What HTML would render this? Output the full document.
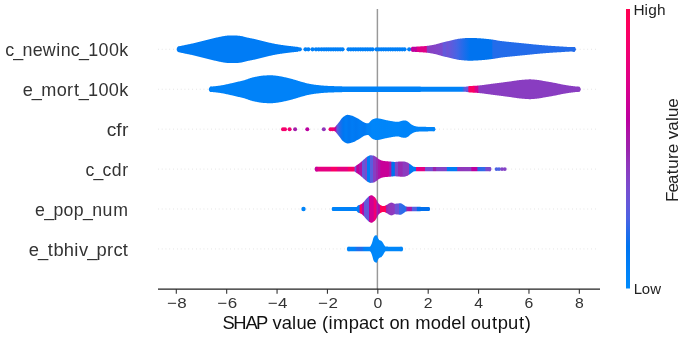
<!DOCTYPE html>
<html><head><meta charset="utf-8"><style>
html,body{margin:0;padding:0;background:#fff;}
body{width:685px;height:340px;overflow:hidden;}
svg{display:block;font-family:"Liberation Sans",sans-serif;filter:blur(0.55px);}
</style></head><body>
<svg width="685" height="340" viewBox="0 0 685 340">
<defs><linearGradient id="g1" gradientUnits="userSpaceOnUse" x1="411.60" y1="0" x2="575.00" y2="0"><stop offset="0.0000" stop-color="#c0009c"/><stop offset="0.0294" stop-color="#c0009c"/><stop offset="0.0343" stop-color="#e00086"/><stop offset="0.0900" stop-color="#e00086"/><stop offset="0.0949" stop-color="#893dc1"/><stop offset="0.1408" stop-color="#8443c6"/><stop offset="0.1860" stop-color="#7b4acc"/><stop offset="0.1952" stop-color="#6359da"/><stop offset="0.2075" stop-color="#6359da"/><stop offset="0.2166" stop-color="#6e53d5"/><stop offset="0.2350" stop-color="#6359da"/><stop offset="0.2778" stop-color="#4565e5"/><stop offset="0.3146" stop-color="#236cea"/><stop offset="0.3574" stop-color="#0073ef"/><stop offset="0.4890" stop-color="#0073ef"/><stop offset="0.4982" stop-color="#236cea"/><stop offset="1.0000" stop-color="#236cea"/></linearGradient><linearGradient id="g2" gradientUnits="userSpaceOnUse" x1="209.90" y1="0" x2="579.70" y2="0"><stop offset="0.0000" stop-color="#0082f8"/><stop offset="0.6817" stop-color="#0082f8"/><stop offset="0.6898" stop-color="#6359da"/><stop offset="0.6966" stop-color="#6a55d7"/><stop offset="0.7006" stop-color="#fb0063"/><stop offset="0.7142" stop-color="#fb0063"/><stop offset="0.7182" stop-color="#d9008b"/><stop offset="0.7236" stop-color="#d5008f"/><stop offset="0.7277" stop-color="#893dc1"/><stop offset="1.0000" stop-color="#893dc1"/></linearGradient><linearGradient id="g3" gradientUnits="userSpaceOnUse" x1="335.40" y1="0" x2="434.60" y2="0"><stop offset="0.0000" stop-color="#bb00a0"/><stop offset="0.0161" stop-color="#6359da"/><stop offset="0.0464" stop-color="#236cea"/><stop offset="0.0766" stop-color="#0076f1"/><stop offset="0.1069" stop-color="#007cf5"/><stop offset="0.1371" stop-color="#0076f1"/><stop offset="0.1673" stop-color="#007cf5"/><stop offset="0.2077" stop-color="#0078f2"/><stop offset="0.2480" stop-color="#007cf5"/><stop offset="0.2984" stop-color="#0079f3"/><stop offset="0.3185" stop-color="#0081f7"/><stop offset="0.3488" stop-color="#0082f8"/><stop offset="0.3690" stop-color="#0086fa"/><stop offset="0.5000" stop-color="#0085f9"/><stop offset="0.6008" stop-color="#0086fa"/><stop offset="0.7016" stop-color="#0084f9"/><stop offset="1.0000" stop-color="#0084f9"/></linearGradient><linearGradient id="g4" gradientUnits="userSpaceOnUse" x1="315.50" y1="0" x2="490.70" y2="0"><stop offset="0.0000" stop-color="#c80098"/><stop offset="0.0143" stop-color="#d9008b"/><stop offset="0.0171" stop-color="#e60080"/><stop offset="0.0885" stop-color="#e60080"/><stop offset="0.0913" stop-color="#f90067"/><stop offset="0.1227" stop-color="#f90067"/><stop offset="0.1256" stop-color="#e60080"/><stop offset="0.1855" stop-color="#e60080"/><stop offset="0.1884" stop-color="#f90067"/><stop offset="0.2186" stop-color="#f90067"/><stop offset="0.2272" stop-color="#784ccf"/><stop offset="0.2323" stop-color="#754fd1"/><stop offset="0.2346" stop-color="#c0009c"/><stop offset="0.2489" stop-color="#c0009c"/><stop offset="0.2511" stop-color="#ab15a7"/><stop offset="0.2660" stop-color="#ab15a7"/><stop offset="0.2683" stop-color="#6359da"/><stop offset="0.2791" stop-color="#6359da"/><stop offset="0.2814" stop-color="#7b4acc"/><stop offset="0.2922" stop-color="#7b4acc"/><stop offset="0.2945" stop-color="#007cf5"/><stop offset="0.3094" stop-color="#007cf5"/><stop offset="0.3116" stop-color="#5a5dde"/><stop offset="0.3259" stop-color="#5a5dde"/><stop offset="0.3282" stop-color="#893dc1"/><stop offset="0.3425" stop-color="#893dc1"/><stop offset="0.3447" stop-color="#972bb2"/><stop offset="0.3556" stop-color="#972bb2"/><stop offset="0.3579" stop-color="#ab15a7"/><stop offset="0.3693" stop-color="#ab15a7"/><stop offset="0.3716" stop-color="#c80098"/><stop offset="0.4184" stop-color="#c80098"/><stop offset="0.4218" stop-color="#ab15a7"/><stop offset="0.4315" stop-color="#ab15a7"/><stop offset="0.4349" stop-color="#0071ee"/><stop offset="0.4503" stop-color="#0071ee"/><stop offset="0.4538" stop-color="#7e48ca"/><stop offset="0.4697" stop-color="#7e48ca"/><stop offset="0.4732" stop-color="#972bb2"/><stop offset="0.4954" stop-color="#972bb2"/><stop offset="0.4989" stop-color="#8c3bbf"/><stop offset="0.5337" stop-color="#8c3bbf"/><stop offset="0.5371" stop-color="#0078f2"/><stop offset="0.5713" stop-color="#0078f2"/><stop offset="0.5759" stop-color="#e60080"/><stop offset="0.6227" stop-color="#e20084"/><stop offset="0.6273" stop-color="#754fd1"/><stop offset="0.6672" stop-color="#754fd1"/><stop offset="0.6718" stop-color="#9b23ad"/><stop offset="0.6878" stop-color="#9b23ad"/><stop offset="0.6912" stop-color="#8443c6"/><stop offset="0.7471" stop-color="#8443c6"/><stop offset="0.7517" stop-color="#007cf5"/><stop offset="0.8076" stop-color="#007cf5"/><stop offset="0.8111" stop-color="#9135ba"/><stop offset="0.8876" stop-color="#8c3bbf"/><stop offset="0.8921" stop-color="#bb00a0"/><stop offset="0.9218" stop-color="#bb00a0"/><stop offset="0.9264" stop-color="#236cea"/><stop offset="0.9675" stop-color="#3769e8"/><stop offset="0.9720" stop-color="#7e48ca"/><stop offset="1.0000" stop-color="#7e48ca"/></linearGradient><linearGradient id="g5" gradientUnits="userSpaceOnUse" x1="332.40" y1="0" x2="429.30" y2="0"><stop offset="0.0000" stop-color="#0084f9"/><stop offset="0.2776" stop-color="#007ff7"/><stop offset="0.2817" stop-color="#f6006b"/><stop offset="0.3024" stop-color="#f6006b"/><stop offset="0.3065" stop-color="#b508a3"/><stop offset="0.3209" stop-color="#b508a3"/><stop offset="0.3251" stop-color="#6359da"/><stop offset="0.3756" stop-color="#6359da"/><stop offset="0.3798" stop-color="#bb00a0"/><stop offset="0.3880" stop-color="#c0009c"/><stop offset="0.3911" stop-color="#d00093"/><stop offset="0.4231" stop-color="#d00093"/><stop offset="0.4272" stop-color="#f00074"/><stop offset="0.4530" stop-color="#f00074"/><stop offset="0.4572" stop-color="#9b23ad"/><stop offset="0.4716" stop-color="#9b23ad"/><stop offset="0.4757" stop-color="#b508a3"/><stop offset="0.4892" stop-color="#b508a3"/><stop offset="0.4933" stop-color="#ff0058"/><stop offset="0.5501" stop-color="#ff0058"/><stop offset="0.5542" stop-color="#a21eaa"/><stop offset="0.5820" stop-color="#9135ba"/><stop offset="0.6398" stop-color="#8c3bbf"/><stop offset="0.6460" stop-color="#6e53d5"/><stop offset="0.6863" stop-color="#6e53d5"/><stop offset="0.6925" stop-color="#3769e8"/><stop offset="0.7544" stop-color="#236cea"/><stop offset="0.7699" stop-color="#9b23ad"/><stop offset="0.8008" stop-color="#ab15a7"/><stop offset="0.8215" stop-color="#9b23ad"/><stop offset="0.8266" stop-color="#555fe0"/><stop offset="0.8669" stop-color="#555fe0"/><stop offset="0.8731" stop-color="#006fed"/><stop offset="1.0000" stop-color="#006fed"/></linearGradient><linearGradient id="g6" gradientUnits="userSpaceOnUse" x1="347.70" y1="0" x2="402.30" y2="0"><stop offset="0.0000" stop-color="#0085f9"/><stop offset="0.1337" stop-color="#0082f8"/><stop offset="0.1703" stop-color="#236cea"/><stop offset="0.2619" stop-color="#236cea"/><stop offset="0.2985" stop-color="#0082f8"/><stop offset="0.5183" stop-color="#0088fa"/><stop offset="1.0000" stop-color="#0085f9"/></linearGradient>
<linearGradient id="cb" x1="0" y1="1" x2="0" y2="0"><stop offset="0.000" stop-color="#008bfb"/><stop offset="0.050" stop-color="#0084f9"/><stop offset="0.100" stop-color="#007cf5"/><stop offset="0.150" stop-color="#0074f0"/><stop offset="0.200" stop-color="#236cea"/><stop offset="0.250" stop-color="#4b63e3"/><stop offset="0.300" stop-color="#6359da"/><stop offset="0.350" stop-color="#754fd1"/><stop offset="0.400" stop-color="#8443c6"/><stop offset="0.450" stop-color="#9135ba"/><stop offset="0.500" stop-color="#9b23ad"/><stop offset="0.550" stop-color="#ab15a7"/><stop offset="0.600" stop-color="#bb00a0"/><stop offset="0.650" stop-color="#c80098"/><stop offset="0.700" stop-color="#d5008f"/><stop offset="0.750" stop-color="#e00086"/><stop offset="0.800" stop-color="#e9007c"/><stop offset="0.850" stop-color="#f20072"/><stop offset="0.900" stop-color="#f90067"/><stop offset="0.950" stop-color="#fe005c"/><stop offset="1.000" stop-color="#ff0051"/></linearGradient>
</defs>
<rect width="685" height="340" fill="#fff"/>
<line x1="158" y1="49.30" x2="598.5" y2="49.30" stroke="#cccccc" stroke-width="0.7" stroke-dasharray="0.7 3.1"/>
<line x1="158" y1="89.25" x2="598.5" y2="89.25" stroke="#cccccc" stroke-width="0.7" stroke-dasharray="0.7 3.1"/>
<line x1="158" y1="129.15" x2="598.5" y2="129.15" stroke="#cccccc" stroke-width="0.7" stroke-dasharray="0.7 3.1"/>
<line x1="158" y1="169.10" x2="598.5" y2="169.10" stroke="#cccccc" stroke-width="0.7" stroke-dasharray="0.7 3.1"/>
<line x1="158" y1="209.00" x2="598.5" y2="209.00" stroke="#cccccc" stroke-width="0.7" stroke-dasharray="0.7 3.1"/>
<line x1="158" y1="248.95" x2="598.5" y2="248.95" stroke="#cccccc" stroke-width="0.7" stroke-dasharray="0.7 3.1"/>
<line x1="377.4" y1="9" x2="377.4" y2="289" stroke="#999999" stroke-width="1.45"/>
<path d="M177.80,46.60 178.30,46.49 178.80,46.37 179.30,46.26 179.80,46.15 180.30,46.04 180.80,45.93 181.30,45.82 181.80,45.71 182.30,45.60 182.80,45.49 183.30,45.38 183.80,45.27 184.30,45.16 184.80,45.06 185.30,44.95 185.80,44.85 186.30,44.75 186.80,44.65 187.30,44.55 187.80,44.45 188.30,44.35 188.80,44.25 189.30,44.15 189.80,44.05 190.30,43.94 190.80,43.84 191.30,43.73 191.80,43.62 192.30,43.51 192.80,43.39 193.30,43.28 193.80,43.15 194.30,43.03 194.80,42.91 195.30,42.78 195.80,42.66 196.30,42.53 196.80,42.40 197.30,42.28 197.80,42.15 198.30,42.02 198.80,41.90 199.30,41.78 199.80,41.65 200.30,41.53 200.80,41.41 201.30,41.28 201.80,41.16 202.30,41.04 202.80,40.91 203.30,40.79 203.80,40.67 204.30,40.54 204.80,40.42 205.30,40.30 205.80,40.17 206.30,40.05 206.80,39.93 207.30,39.80 207.80,39.68 208.30,39.55 208.80,39.43 209.30,39.30 209.80,39.18 210.30,39.05 210.80,38.93 211.30,38.80 211.80,38.68 212.30,38.56 212.80,38.44 213.30,38.32 213.80,38.20 214.30,38.08 214.80,37.96 215.30,37.85 215.80,37.73 216.30,37.61 216.80,37.50 217.30,37.38 217.80,37.27 218.30,37.16 218.80,37.05 219.30,36.94 219.80,36.84 220.30,36.74 220.80,36.64 221.30,36.54 221.80,36.44 222.30,36.34 222.80,36.25 223.30,36.16 223.80,36.07 224.30,36.00 224.80,35.93 225.30,35.86 225.80,35.80 226.30,35.73 226.80,35.67 227.30,35.61 227.80,35.57 228.30,35.53 228.80,35.51 229.30,35.50 229.80,35.50 230.30,35.50 230.80,35.50 231.30,35.50 231.80,35.50 232.30,35.50 232.80,35.50 233.30,35.50 233.80,35.50 234.30,35.50 234.80,35.50 235.30,35.50 235.80,35.51 236.30,35.53 236.80,35.56 237.30,35.60 237.80,35.64 238.30,35.69 238.80,35.75 239.30,35.80 239.80,35.86 240.30,35.92 240.80,35.99 241.30,36.06 241.80,36.15 242.30,36.25 242.80,36.37 243.30,36.49 243.80,36.63 244.30,36.77 244.80,36.91 245.30,37.05 245.80,37.18 246.30,37.31 246.80,37.42 247.30,37.53 247.80,37.64 248.30,37.74 248.80,37.84 249.30,37.94 249.80,38.04 250.30,38.14 250.80,38.24 251.30,38.34 251.80,38.43 252.30,38.53 252.80,38.63 253.30,38.74 253.80,38.84 254.30,38.95 254.80,39.06 255.30,39.17 255.80,39.28 256.30,39.40 256.80,39.52 257.30,39.64 257.80,39.77 258.30,39.89 258.80,40.02 259.30,40.14 259.80,40.27 260.30,40.40 260.80,40.52 261.30,40.65 261.80,40.78 262.30,40.90 262.80,41.02 263.30,41.15 263.80,41.28 264.30,41.40 264.80,41.53 265.30,41.66 265.80,41.78 266.30,41.91 266.80,42.03 267.30,42.16 267.80,42.28 268.30,42.40 268.80,42.52 269.30,42.63 269.80,42.74 270.30,42.86 270.80,42.97 271.30,43.08 271.80,43.19 272.30,43.29 272.80,43.40 273.30,43.51 273.80,43.61 274.30,43.71 274.80,43.81 275.30,43.91 275.80,44.00 276.30,44.09 276.80,44.18 277.30,44.27 277.80,44.35 278.30,44.44 278.80,44.52 279.30,44.59 279.80,44.67 280.30,44.75 280.80,44.82 281.30,44.89 281.80,44.97 282.30,45.04 282.80,45.11 283.30,45.18 283.80,45.25 284.30,45.31 284.80,45.38 285.30,45.45 285.80,45.51 286.30,45.57 286.80,45.64 287.30,45.70 287.80,45.76 288.30,45.82 288.80,45.88 289.30,45.94 289.80,46.00 290.30,46.06 290.80,46.12 291.30,46.18 291.80,46.24 292.30,46.29 292.80,46.35 293.30,46.41 293.80,46.47 294.30,46.53 294.80,46.58 295.30,46.64 295.80,46.70 296.30,46.76 296.80,46.81 297.30,46.87 297.80,46.92 298.30,46.98 298.50,47.00 L298.50,51.60 298.30,51.62 297.80,51.68 297.30,51.73 296.80,51.79 296.30,51.84 295.80,51.90 295.30,51.96 294.80,52.02 294.30,52.07 293.80,52.13 293.30,52.19 292.80,52.25 292.30,52.31 291.80,52.36 291.30,52.42 290.80,52.48 290.30,52.54 289.80,52.60 289.30,52.66 288.80,52.72 288.30,52.78 287.80,52.84 287.30,52.90 286.80,52.96 286.30,53.03 285.80,53.09 285.30,53.15 284.80,53.22 284.30,53.29 283.80,53.35 283.30,53.42 282.80,53.49 282.30,53.56 281.80,53.63 281.30,53.71 280.80,53.78 280.30,53.85 279.80,53.93 279.30,54.01 278.80,54.08 278.30,54.16 277.80,54.25 277.30,54.33 276.80,54.42 276.30,54.51 275.80,54.60 275.30,54.69 274.80,54.79 274.30,54.89 273.80,54.99 273.30,55.09 272.80,55.20 272.30,55.31 271.80,55.41 271.30,55.52 270.80,55.63 270.30,55.74 269.80,55.86 269.30,55.97 268.80,56.08 268.30,56.20 267.80,56.32 267.30,56.44 266.80,56.57 266.30,56.69 265.80,56.82 265.30,56.94 264.80,57.07 264.30,57.20 263.80,57.32 263.30,57.45 262.80,57.58 262.30,57.70 261.80,57.82 261.30,57.95 260.80,58.08 260.30,58.20 259.80,58.33 259.30,58.46 258.80,58.58 258.30,58.71 257.80,58.83 257.30,58.96 256.80,59.08 256.30,59.20 255.80,59.32 255.30,59.43 254.80,59.54 254.30,59.65 253.80,59.76 253.30,59.86 252.80,59.97 252.30,60.07 251.80,60.17 251.30,60.26 250.80,60.36 250.30,60.46 249.80,60.56 249.30,60.66 248.80,60.76 248.30,60.86 247.80,60.96 247.30,61.07 246.80,61.18 246.30,61.29 245.80,61.42 245.30,61.55 244.80,61.69 244.30,61.83 243.80,61.97 243.30,62.11 242.80,62.23 242.30,62.35 241.80,62.45 241.30,62.54 240.80,62.61 240.30,62.68 239.80,62.74 239.30,62.80 238.80,62.85 238.30,62.91 237.80,62.96 237.30,63.00 236.80,63.04 236.30,63.07 235.80,63.09 235.30,63.10 234.80,63.10 234.30,63.10 233.80,63.10 233.30,63.10 232.80,63.10 232.30,63.10 231.80,63.10 231.30,63.10 230.80,63.10 230.30,63.10 229.80,63.10 229.30,63.10 228.80,63.09 228.30,63.07 227.80,63.03 227.30,62.99 226.80,62.93 226.30,62.87 225.80,62.80 225.30,62.74 224.80,62.67 224.30,62.60 223.80,62.53 223.30,62.44 222.80,62.35 222.30,62.26 221.80,62.16 221.30,62.06 220.80,61.96 220.30,61.86 219.80,61.76 219.30,61.66 218.80,61.55 218.30,61.44 217.80,61.33 217.30,61.22 216.80,61.10 216.30,60.99 215.80,60.87 215.30,60.75 214.80,60.64 214.30,60.52 213.80,60.40 213.30,60.28 212.80,60.16 212.30,60.04 211.80,59.92 211.30,59.80 210.80,59.67 210.30,59.55 209.80,59.42 209.30,59.30 208.80,59.17 208.30,59.05 207.80,58.92 207.30,58.80 206.80,58.67 206.30,58.55 205.80,58.43 205.30,58.30 204.80,58.18 204.30,58.06 203.80,57.93 203.30,57.81 202.80,57.69 202.30,57.56 201.80,57.44 201.30,57.32 200.80,57.19 200.30,57.07 199.80,56.95 199.30,56.82 198.80,56.70 198.30,56.58 197.80,56.45 197.30,56.32 196.80,56.20 196.30,56.07 195.80,55.94 195.30,55.82 194.80,55.69 194.30,55.57 193.80,55.45 193.30,55.32 192.80,55.21 192.30,55.09 191.80,54.98 191.30,54.87 190.80,54.76 190.30,54.66 189.80,54.55 189.30,54.45 188.80,54.35 188.30,54.25 187.80,54.15 187.30,54.05 186.80,53.95 186.30,53.85 185.80,53.75 185.30,53.65 184.80,53.54 184.30,53.44 183.80,53.33 183.30,53.22 182.80,53.11 182.30,53.00 181.80,52.89 181.30,52.78 180.80,52.67 180.30,52.56 179.80,52.45 179.30,52.34 178.80,52.23 178.30,52.11 177.80,52.00 Z" fill="#007cf5"/>
<circle cx="179.42" cy="49.30" r="2.70" fill="#007cf5"/>
<circle cx="297.12" cy="49.30" r="2.30" fill="#007cf5"/>
<circle cx="299.80" cy="49.30" r="2.10" fill="#007ef6"/>
<circle cx="305.50" cy="49.30" r="2.10" fill="#007ff7"/>
<circle cx="308.30" cy="49.30" r="2.10" fill="#007ff7"/>
<circle cx="312.50" cy="49.30" r="2.10" fill="#007ff7"/>
<circle cx="316.00" cy="49.30" r="2.10" fill="#007ff7"/>
<circle cx="318.75" cy="49.30" r="2.10" fill="#007ff7"/>
<circle cx="321.50" cy="49.30" r="2.10" fill="#007ff7"/>
<circle cx="324.00" cy="49.30" r="2.10" fill="#007ff7"/>
<circle cx="326.31" cy="49.30" r="2.10" fill="#007ff7"/>
<circle cx="328.62" cy="49.30" r="2.10" fill="#007ff7"/>
<circle cx="330.94" cy="49.30" r="2.10" fill="#007ff7"/>
<circle cx="333.25" cy="49.30" r="2.10" fill="#007ff7"/>
<circle cx="335.56" cy="49.30" r="2.10" fill="#007ff7"/>
<circle cx="337.88" cy="49.30" r="2.10" fill="#007ff7"/>
<circle cx="340.19" cy="49.30" r="2.10" fill="#007ff7"/>
<circle cx="342.50" cy="49.30" r="2.10" fill="#007ff7"/>
<circle cx="348.50" cy="49.30" r="2.10" fill="#007ff7"/>
<circle cx="350.90" cy="49.30" r="2.10" fill="#007ff7"/>
<circle cx="353.30" cy="49.30" r="2.10" fill="#007ff7"/>
<circle cx="355.70" cy="49.30" r="2.10" fill="#007ff7"/>
<circle cx="358.10" cy="49.30" r="2.10" fill="#007ff7"/>
<circle cx="360.50" cy="49.30" r="2.10" fill="#007ff7"/>
<circle cx="362.90" cy="49.30" r="2.10" fill="#007ff7"/>
<circle cx="365.30" cy="49.30" r="2.10" fill="#007ff7"/>
<circle cx="367.70" cy="49.30" r="2.10" fill="#007ff7"/>
<circle cx="370.10" cy="49.30" r="2.10" fill="#007ff7"/>
<circle cx="372.50" cy="49.30" r="2.10" fill="#007ff7"/>
<circle cx="376.50" cy="49.30" r="2.10" fill="#007ff7"/>
<circle cx="378.83" cy="49.30" r="2.10" fill="#007ff7"/>
<circle cx="381.17" cy="49.30" r="2.10" fill="#007ff7"/>
<circle cx="383.50" cy="49.30" r="2.10" fill="#007ff7"/>
<circle cx="385.83" cy="49.30" r="2.10" fill="#007ff7"/>
<circle cx="388.17" cy="49.30" r="2.10" fill="#007ff7"/>
<circle cx="390.50" cy="49.30" r="2.10" fill="#007ff7"/>
<circle cx="392.83" cy="49.30" r="2.10" fill="#007ff7"/>
<circle cx="395.17" cy="49.30" r="2.10" fill="#007ff7"/>
<circle cx="397.50" cy="49.30" r="2.10" fill="#007ff7"/>
<circle cx="399.83" cy="49.30" r="2.10" fill="#007ff7"/>
<circle cx="402.17" cy="49.30" r="2.10" fill="#007ff7"/>
<circle cx="404.50" cy="49.30" r="2.10" fill="#007ff7"/>
<circle cx="409.20" cy="49.30" r="2.10" fill="#007ff7"/>
<path d="M411.60,46.90 412.10,46.87 412.60,46.85 413.10,46.82 413.60,46.79 414.10,46.77 414.60,46.74 415.10,46.71 415.60,46.68 416.10,46.65 416.60,46.62 417.10,46.59 417.60,46.56 418.10,46.52 418.60,46.49 419.10,46.46 419.60,46.43 420.10,46.39 420.60,46.36 421.10,46.33 421.60,46.30 422.10,46.26 422.60,46.23 423.10,46.20 423.60,46.16 424.10,46.13 424.60,46.09 425.10,46.05 425.60,46.00 426.10,45.96 426.60,45.91 427.10,45.86 427.60,45.80 428.10,45.74 428.60,45.67 429.10,45.60 429.60,45.52 430.10,45.44 430.60,45.36 431.10,45.27 431.60,45.18 432.10,45.09 432.60,45.00 433.10,44.90 433.60,44.80 434.10,44.70 434.60,44.60 435.10,44.49 435.60,44.38 436.10,44.25 436.60,44.12 437.10,43.99 437.60,43.85 438.10,43.70 438.60,43.56 439.10,43.41 439.60,43.26 440.10,43.12 440.60,42.98 441.10,42.84 441.60,42.70 442.10,42.57 442.60,42.45 443.10,42.32 443.60,42.20 444.10,42.08 444.60,41.96 445.10,41.84 445.60,41.72 446.10,41.60 446.60,41.48 447.10,41.36 447.60,41.25 448.10,41.13 448.60,41.02 449.10,40.90 449.60,40.79 450.10,40.68 450.60,40.56 451.10,40.45 451.60,40.33 452.10,40.20 452.60,40.08 453.10,39.96 453.60,39.84 454.10,39.72 454.60,39.60 455.10,39.48 455.60,39.36 456.10,39.25 456.60,39.15 457.10,39.05 457.60,38.95 458.10,38.86 458.60,38.78 459.10,38.71 459.60,38.65 460.10,38.59 460.60,38.54 461.10,38.48 461.60,38.43 462.10,38.38 462.60,38.33 463.10,38.28 463.60,38.24 464.10,38.19 464.60,38.15 465.10,38.11 465.60,38.07 466.10,38.04 466.60,38.01 467.10,37.98 467.60,37.96 468.10,37.94 468.60,37.92 469.10,37.91 469.60,37.90 470.10,37.90 470.60,37.90 471.10,37.91 471.60,37.92 472.10,37.93 472.60,37.94 473.10,37.96 473.60,37.98 474.10,38.00 474.60,38.02 475.10,38.04 475.60,38.07 476.10,38.10 476.60,38.12 477.10,38.15 477.60,38.18 478.10,38.22 478.60,38.25 479.10,38.28 479.60,38.31 480.10,38.34 480.60,38.37 481.10,38.41 481.60,38.44 482.10,38.48 482.60,38.51 483.10,38.55 483.60,38.60 484.10,38.64 484.60,38.69 485.10,38.73 485.60,38.78 486.10,38.84 486.60,38.89 487.10,38.94 487.60,39.00 488.10,39.05 488.60,39.11 489.10,39.17 489.60,39.23 490.10,39.29 490.60,39.35 491.10,39.41 491.60,39.48 492.10,39.55 492.60,39.62 493.10,39.70 493.60,39.78 494.10,39.86 494.60,39.95 495.10,40.03 495.60,40.12 496.10,40.21 496.60,40.30 497.10,40.38 497.60,40.47 498.10,40.56 498.60,40.64 499.10,40.72 499.60,40.80 500.10,40.88 500.60,40.95 501.10,41.01 501.60,41.08 502.10,41.14 502.60,41.20 503.10,41.26 503.60,41.32 504.10,41.37 504.60,41.43 505.10,41.49 505.60,41.54 506.10,41.59 506.60,41.65 507.10,41.70 507.60,41.75 508.10,41.80 508.60,41.85 509.10,41.91 509.60,41.96 510.10,42.01 510.60,42.06 511.10,42.11 511.60,42.16 512.10,42.21 512.60,42.26 513.10,42.31 513.60,42.36 514.10,42.41 514.60,42.46 515.10,42.51 515.60,42.56 516.10,42.61 516.60,42.66 517.10,42.71 517.60,42.76 518.10,42.81 518.60,42.86 519.10,42.91 519.60,42.96 520.10,43.01 520.60,43.06 521.10,43.11 521.60,43.16 522.10,43.21 522.60,43.26 523.10,43.31 523.60,43.36 524.10,43.41 524.60,43.46 525.10,43.51 525.60,43.56 526.10,43.61 526.60,43.66 527.10,43.71 527.60,43.76 528.10,43.81 528.60,43.86 529.10,43.91 529.60,43.96 530.10,44.02 530.60,44.07 531.10,44.12 531.60,44.17 532.10,44.22 532.60,44.27 533.10,44.33 533.60,44.38 534.10,44.43 534.60,44.48 535.10,44.53 535.60,44.57 536.10,44.62 536.60,44.67 537.10,44.72 537.60,44.76 538.10,44.81 538.60,44.85 539.10,44.90 539.60,44.94 540.10,44.99 540.60,45.03 541.10,45.07 541.60,45.12 542.10,45.16 542.60,45.20 543.10,45.24 543.60,45.28 544.10,45.32 544.60,45.36 545.10,45.40 545.60,45.44 546.10,45.48 546.60,45.52 547.10,45.56 547.60,45.60 548.10,45.63 548.60,45.67 549.10,45.71 549.60,45.74 550.10,45.78 550.60,45.81 551.10,45.85 551.60,45.88 552.10,45.91 552.60,45.95 553.10,45.98 553.60,46.01 554.10,46.04 554.60,46.07 555.10,46.11 555.60,46.14 556.10,46.17 556.60,46.20 557.10,46.23 557.60,46.26 558.10,46.29 558.60,46.32 559.10,46.35 559.60,46.38 560.10,46.41 560.60,46.44 561.10,46.47 561.60,46.50 562.10,46.54 562.60,46.57 563.10,46.61 563.60,46.65 564.10,46.68 564.60,46.72 565.10,46.75 565.60,46.79 566.10,46.82 566.60,46.85 567.10,46.88 567.60,46.91 568.10,46.93 568.60,46.95 569.10,46.97 569.60,46.98 570.10,46.99 570.60,47.00 571.10,47.00 571.60,47.00 572.10,46.99 572.60,46.98 573.10,46.97 573.60,46.96 574.10,46.94 574.60,46.92 575.00,46.90 L575.00,51.70 574.60,51.68 574.10,51.66 573.60,51.64 573.10,51.63 572.60,51.62 572.10,51.61 571.60,51.60 571.10,51.60 570.60,51.60 570.10,51.61 569.60,51.62 569.10,51.63 568.60,51.65 568.10,51.67 567.60,51.69 567.10,51.72 566.60,51.75 566.10,51.78 565.60,51.81 565.10,51.85 564.60,51.88 564.10,51.92 563.60,51.95 563.10,51.99 562.60,52.03 562.10,52.06 561.60,52.10 561.10,52.13 560.60,52.16 560.10,52.19 559.60,52.22 559.10,52.25 558.60,52.28 558.10,52.31 557.60,52.34 557.10,52.37 556.60,52.40 556.10,52.43 555.60,52.46 555.10,52.49 554.60,52.53 554.10,52.56 553.60,52.59 553.10,52.62 552.60,52.65 552.10,52.69 551.60,52.72 551.10,52.75 550.60,52.79 550.10,52.82 549.60,52.86 549.10,52.89 548.60,52.93 548.10,52.97 547.60,53.00 547.10,53.04 546.60,53.08 546.10,53.12 545.60,53.16 545.10,53.20 544.60,53.24 544.10,53.28 543.60,53.32 543.10,53.36 542.60,53.40 542.10,53.44 541.60,53.48 541.10,53.53 540.60,53.57 540.10,53.61 539.60,53.66 539.10,53.70 538.60,53.75 538.10,53.79 537.60,53.84 537.10,53.88 536.60,53.93 536.10,53.98 535.60,54.03 535.10,54.07 534.60,54.12 534.10,54.17 533.60,54.22 533.10,54.27 532.60,54.33 532.10,54.38 531.60,54.43 531.10,54.48 530.60,54.53 530.10,54.58 529.60,54.64 529.10,54.69 528.60,54.74 528.10,54.79 527.60,54.84 527.10,54.89 526.60,54.94 526.10,54.99 525.60,55.04 525.10,55.09 524.60,55.14 524.10,55.19 523.60,55.24 523.10,55.29 522.60,55.34 522.10,55.39 521.60,55.44 521.10,55.49 520.60,55.54 520.10,55.59 519.60,55.64 519.10,55.69 518.60,55.74 518.10,55.79 517.60,55.84 517.10,55.89 516.60,55.94 516.10,55.99 515.60,56.04 515.10,56.09 514.60,56.14 514.10,56.19 513.60,56.24 513.10,56.29 512.60,56.34 512.10,56.39 511.60,56.44 511.10,56.49 510.60,56.54 510.10,56.59 509.60,56.64 509.10,56.69 508.60,56.75 508.10,56.80 507.60,56.85 507.10,56.90 506.60,56.95 506.10,57.01 505.60,57.06 505.10,57.11 504.60,57.17 504.10,57.23 503.60,57.28 503.10,57.34 502.60,57.40 502.10,57.46 501.60,57.52 501.10,57.59 500.60,57.65 500.10,57.72 499.60,57.80 499.10,57.88 498.60,57.96 498.10,58.04 497.60,58.13 497.10,58.22 496.60,58.30 496.10,58.39 495.60,58.48 495.10,58.57 494.60,58.65 494.10,58.74 493.60,58.82 493.10,58.90 492.60,58.98 492.10,59.05 491.60,59.12 491.10,59.19 490.60,59.25 490.10,59.31 489.60,59.37 489.10,59.43 488.60,59.49 488.10,59.55 487.60,59.60 487.10,59.66 486.60,59.71 486.10,59.76 485.60,59.82 485.10,59.87 484.60,59.91 484.10,59.96 483.60,60.00 483.10,60.05 482.60,60.09 482.10,60.12 481.60,60.16 481.10,60.19 480.60,60.23 480.10,60.26 479.60,60.29 479.10,60.32 478.60,60.35 478.10,60.38 477.60,60.42 477.10,60.45 476.60,60.48 476.10,60.50 475.60,60.53 475.10,60.56 474.60,60.58 474.10,60.60 473.60,60.62 473.10,60.64 472.60,60.66 472.10,60.67 471.60,60.68 471.10,60.69 470.60,60.70 470.10,60.70 469.60,60.70 469.10,60.69 468.60,60.68 468.10,60.66 467.60,60.64 467.10,60.62 466.60,60.59 466.10,60.56 465.60,60.53 465.10,60.49 464.60,60.45 464.10,60.41 463.60,60.36 463.10,60.32 462.60,60.27 462.10,60.22 461.60,60.17 461.10,60.12 460.60,60.06 460.10,60.01 459.60,59.95 459.10,59.89 458.60,59.82 458.10,59.74 457.60,59.65 457.10,59.55 456.60,59.45 456.10,59.35 455.60,59.24 455.10,59.12 454.60,59.00 454.10,58.88 453.60,58.76 453.10,58.64 452.60,58.52 452.10,58.40 451.60,58.27 451.10,58.15 450.60,58.04 450.10,57.92 449.60,57.81 449.10,57.70 448.60,57.58 448.10,57.47 447.60,57.35 447.10,57.24 446.60,57.12 446.10,57.00 445.60,56.88 445.10,56.76 444.60,56.64 444.10,56.52 443.60,56.40 443.10,56.28 442.60,56.15 442.10,56.03 441.60,55.90 441.10,55.76 440.60,55.62 440.10,55.48 439.60,55.34 439.10,55.19 438.60,55.04 438.10,54.90 437.60,54.75 437.10,54.61 436.60,54.48 436.10,54.35 435.60,54.22 435.10,54.11 434.60,54.00 434.10,53.90 433.60,53.80 433.10,53.70 432.60,53.60 432.10,53.51 431.60,53.42 431.10,53.33 430.60,53.24 430.10,53.16 429.60,53.08 429.10,53.00 428.60,52.93 428.10,52.86 427.60,52.80 427.10,52.74 426.60,52.69 426.10,52.64 425.60,52.60 425.10,52.55 424.60,52.51 424.10,52.47 423.60,52.44 423.10,52.40 422.60,52.37 422.10,52.34 421.60,52.30 421.10,52.27 420.60,52.24 420.10,52.21 419.60,52.17 419.10,52.14 418.60,52.11 418.10,52.08 417.60,52.04 417.10,52.01 416.60,51.98 416.10,51.95 415.60,51.92 415.10,51.89 414.60,51.86 414.10,51.83 413.60,51.81 413.10,51.78 412.60,51.75 412.10,51.73 411.60,51.70 Z" fill="url(#g1)"/>
<circle cx="413.04" cy="49.30" r="2.40" fill="url(#g1)"/>
<circle cx="573.56" cy="49.30" r="2.40" fill="url(#g1)"/>
<path d="M209.90,86.65 210.40,86.62 210.90,86.58 211.40,86.54 211.90,86.50 212.40,86.46 212.90,86.42 213.40,86.37 213.90,86.32 214.40,86.27 214.90,86.22 215.40,86.16 215.90,86.11 216.40,86.05 216.90,85.98 217.40,85.92 217.90,85.85 218.40,85.78 218.90,85.71 219.40,85.64 219.90,85.57 220.40,85.49 220.90,85.41 221.40,85.33 221.90,85.25 222.40,85.17 222.90,85.08 223.40,84.98 223.90,84.89 224.40,84.79 224.90,84.69 225.40,84.58 225.90,84.47 226.40,84.37 226.90,84.26 227.40,84.15 227.90,84.04 228.40,83.93 228.90,83.82 229.40,83.71 229.90,83.60 230.40,83.48 230.90,83.37 231.40,83.25 231.90,83.14 232.40,83.02 232.90,82.90 233.40,82.78 233.90,82.66 234.40,82.55 234.90,82.43 235.40,82.31 235.90,82.19 236.40,82.07 236.90,81.96 237.40,81.84 237.90,81.73 238.40,81.62 238.90,81.51 239.40,81.40 239.90,81.29 240.40,81.18 240.90,81.06 241.40,80.95 241.90,80.83 242.40,80.71 242.90,80.58 243.40,80.46 243.90,80.32 244.40,80.18 244.90,80.03 245.40,79.87 245.90,79.70 246.40,79.53 246.90,79.35 247.40,79.17 247.90,78.99 248.40,78.80 248.90,78.62 249.40,78.44 249.90,78.27 250.40,78.10 250.90,77.93 251.40,77.77 251.90,77.63 252.40,77.49 252.90,77.36 253.40,77.25 253.90,77.14 254.40,77.04 254.90,76.94 255.40,76.83 255.90,76.73 256.40,76.63 256.90,76.53 257.40,76.44 257.90,76.35 258.40,76.26 258.90,76.17 259.40,76.09 259.90,76.00 260.40,75.93 260.90,75.86 261.40,75.79 261.90,75.72 262.40,75.67 262.90,75.61 263.40,75.56 263.90,75.52 264.40,75.49 264.90,75.46 265.40,75.43 265.90,75.40 266.40,75.38 266.90,75.36 267.40,75.33 267.90,75.31 268.40,75.30 268.90,75.28 269.40,75.27 269.90,75.26 270.40,75.25 270.90,75.25 271.40,75.26 271.90,75.27 272.40,75.30 272.90,75.34 273.40,75.38 273.90,75.43 274.40,75.48 274.90,75.54 275.40,75.60 275.90,75.66 276.40,75.72 276.90,75.77 277.40,75.84 277.90,75.90 278.40,75.98 278.90,76.05 279.40,76.13 279.90,76.22 280.40,76.31 280.90,76.40 281.40,76.50 281.90,76.60 282.40,76.70 282.90,76.80 283.40,76.91 283.90,77.02 284.40,77.13 284.90,77.24 285.40,77.35 285.90,77.47 286.40,77.59 286.90,77.70 287.40,77.82 287.90,77.93 288.40,78.05 288.90,78.17 289.40,78.29 289.90,78.42 290.40,78.55 290.90,78.68 291.40,78.82 291.90,78.96 292.40,79.10 292.90,79.25 293.40,79.39 293.90,79.53 294.40,79.68 294.90,79.82 295.40,79.97 295.90,80.11 296.40,80.26 296.90,80.42 297.40,80.57 297.90,80.73 298.40,80.89 298.90,81.04 299.40,81.20 299.90,81.35 300.40,81.50 300.90,81.65 301.40,81.80 301.90,81.94 302.40,82.08 302.90,82.21 303.40,82.35 303.90,82.48 304.40,82.62 304.90,82.75 305.40,82.88 305.90,83.01 306.40,83.14 306.90,83.26 307.40,83.38 307.90,83.50 308.40,83.61 308.90,83.71 309.40,83.81 309.90,83.91 310.40,84.00 310.90,84.08 311.40,84.17 311.90,84.25 312.40,84.33 312.90,84.41 313.40,84.49 313.90,84.56 314.40,84.63 314.90,84.70 315.40,84.76 315.90,84.83 316.40,84.89 316.90,84.95 317.40,85.01 317.90,85.06 318.40,85.12 318.90,85.17 319.40,85.23 319.90,85.28 320.40,85.33 320.90,85.38 321.40,85.42 321.90,85.47 322.40,85.51 322.90,85.55 323.40,85.59 323.90,85.63 324.40,85.66 324.90,85.70 325.40,85.73 325.90,85.76 326.40,85.80 326.90,85.83 327.40,85.85 327.90,85.88 328.40,85.91 328.90,85.94 329.40,85.96 329.90,85.98 330.40,86.01 330.90,86.03 331.40,86.05 331.90,86.06 332.40,86.08 332.90,86.10 333.40,86.11 333.90,86.12 334.40,86.14 334.90,86.15 335.40,86.16 335.90,86.17 336.40,86.19 336.90,86.20 337.40,86.21 337.90,86.22 338.40,86.24 338.90,86.25 339.40,86.27 339.90,86.29 340.40,86.31 340.90,86.33 341.40,86.35 341.90,86.37 342.40,86.39 342.90,86.40 343.40,86.42 343.90,86.43 344.40,86.44 344.90,86.45 345.40,86.45 345.90,86.46 346.40,86.46 346.90,86.46 347.40,86.46 347.90,86.47 348.40,86.47 348.90,86.47 349.40,86.48 349.90,86.48 350.40,86.48 350.90,86.48 351.40,86.48 351.90,86.49 352.40,86.49 352.90,86.49 353.40,86.49 353.90,86.49 354.40,86.50 354.90,86.50 355.40,86.50 355.90,86.50 356.40,86.50 356.90,86.50 357.40,86.51 357.90,86.51 358.40,86.51 358.90,86.51 359.40,86.51 359.90,86.51 360.40,86.51 360.90,86.51 361.40,86.52 361.90,86.52 362.40,86.52 362.90,86.52 363.40,86.52 363.90,86.52 364.40,86.52 364.90,86.52 365.40,86.52 365.90,86.52 366.40,86.53 366.90,86.53 367.40,86.53 367.90,86.53 368.40,86.53 368.90,86.53 369.40,86.53 369.90,86.53 370.40,86.53 370.90,86.53 371.40,86.53 371.90,86.53 372.40,86.54 372.90,86.54 373.40,86.54 373.90,86.54 374.40,86.54 374.90,86.54 375.40,86.54 375.90,86.54 376.40,86.54 376.90,86.54 377.40,86.54 377.90,86.55 378.40,86.55 378.90,86.55 379.40,86.55 379.90,86.55 380.40,86.55 380.90,86.55 381.40,86.55 381.90,86.55 382.40,86.56 382.90,86.56 383.40,86.56 383.90,86.56 384.40,86.56 384.90,86.56 385.40,86.56 385.90,86.56 386.40,86.56 386.90,86.56 387.40,86.57 387.90,86.57 388.40,86.57 388.90,86.57 389.40,86.57 389.90,86.57 390.40,86.57 390.90,86.57 391.40,86.57 391.90,86.57 392.40,86.57 392.90,86.58 393.40,86.58 393.90,86.58 394.40,86.58 394.90,86.58 395.40,86.58 395.90,86.58 396.40,86.58 396.90,86.58 397.40,86.58 397.90,86.58 398.40,86.58 398.90,86.59 399.40,86.59 399.90,86.59 400.40,86.59 400.90,86.59 401.40,86.59 401.90,86.59 402.40,86.59 402.90,86.59 403.40,86.59 403.90,86.59 404.40,86.59 404.90,86.60 405.40,86.60 405.90,86.60 406.40,86.60 406.90,86.60 407.40,86.60 407.90,86.60 408.40,86.60 408.90,86.60 409.40,86.60 409.90,86.60 410.40,86.60 410.90,86.61 411.40,86.61 411.90,86.61 412.40,86.61 412.90,86.61 413.40,86.61 413.90,86.61 414.40,86.61 414.90,86.61 415.40,86.61 415.90,86.62 416.40,86.62 416.90,86.62 417.40,86.62 417.90,86.62 418.40,86.62 418.90,86.62 419.40,86.62 419.90,86.62 420.40,86.62 420.90,86.63 421.40,86.63 421.90,86.63 422.40,86.63 422.90,86.63 423.40,86.63 423.90,86.63 424.40,86.63 424.90,86.64 425.40,86.64 425.90,86.64 426.40,86.64 426.90,86.64 427.40,86.64 427.90,86.64 428.40,86.65 428.90,86.65 429.40,86.65 429.90,86.65 430.40,86.65 430.90,86.65 431.40,86.65 431.90,86.66 432.40,86.66 432.90,86.66 433.40,86.66 433.90,86.67 434.40,86.67 434.90,86.67 435.40,86.68 435.90,86.68 436.40,86.68 436.90,86.68 437.40,86.69 437.90,86.69 438.40,86.70 438.90,86.70 439.40,86.70 439.90,86.71 440.40,86.71 440.90,86.71 441.40,86.72 441.90,86.72 442.40,86.73 442.90,86.73 443.40,86.73 443.90,86.74 444.40,86.74 444.90,86.75 445.40,86.75 445.90,86.75 446.40,86.76 446.90,86.76 447.40,86.77 447.90,86.77 448.40,86.77 448.90,86.78 449.40,86.78 449.90,86.79 450.40,86.79 450.90,86.79 451.40,86.80 451.90,86.80 452.40,86.80 452.90,86.81 453.40,86.81 453.90,86.81 454.40,86.82 454.90,86.82 455.40,86.82 455.90,86.83 456.40,86.83 456.90,86.83 457.40,86.83 457.90,86.84 458.40,86.84 458.90,86.84 459.40,86.84 459.90,86.84 460.40,86.84 460.90,86.85 461.40,86.85 461.90,86.85 462.40,86.85 462.90,86.85 463.40,86.85 463.90,86.85 464.40,86.84 464.90,86.81 465.40,86.76 465.90,86.70 466.40,86.62 466.90,86.53 467.40,86.44 467.90,86.35 468.40,86.26 468.90,86.18 469.40,86.11 469.90,86.06 470.40,86.02 470.90,85.98 471.40,85.94 471.90,85.91 472.40,85.88 472.90,85.85 473.40,85.83 473.90,85.80 474.40,85.77 474.90,85.75 475.40,85.72 475.90,85.69 476.40,85.66 476.90,85.63 477.40,85.60 477.90,85.56 478.40,85.52 478.90,85.47 479.40,85.42 479.90,85.37 480.40,85.32 480.90,85.26 481.40,85.20 481.90,85.14 482.40,85.08 482.90,85.02 483.40,84.95 483.90,84.88 484.40,84.81 484.90,84.75 485.40,84.68 485.90,84.61 486.40,84.54 486.90,84.47 487.40,84.40 487.90,84.33 488.40,84.26 488.90,84.19 489.40,84.13 489.90,84.06 490.40,84.00 490.90,83.93 491.40,83.87 491.90,83.81 492.40,83.74 492.90,83.68 493.40,83.61 493.90,83.55 494.40,83.48 494.90,83.42 495.40,83.35 495.90,83.29 496.40,83.22 496.90,83.15 497.40,83.09 497.90,83.02 498.40,82.96 498.90,82.89 499.40,82.83 499.90,82.76 500.40,82.70 500.90,82.63 501.40,82.57 501.90,82.50 502.40,82.44 502.90,82.38 503.40,82.31 503.90,82.25 504.40,82.18 504.90,82.12 505.40,82.05 505.90,81.99 506.40,81.93 506.90,81.86 507.40,81.79 507.90,81.73 508.40,81.66 508.90,81.60 509.40,81.53 509.90,81.46 510.40,81.40 510.90,81.32 511.40,81.25 511.90,81.18 512.40,81.10 512.90,81.02 513.40,80.95 513.90,80.87 514.40,80.79 514.90,80.71 515.40,80.64 515.90,80.56 516.40,80.49 516.90,80.42 517.40,80.35 517.90,80.28 518.40,80.22 518.90,80.16 519.40,80.11 519.90,80.06 520.40,80.01 520.90,79.96 521.40,79.92 521.90,79.87 522.40,79.82 522.90,79.77 523.40,79.72 523.90,79.68 524.40,79.63 524.90,79.59 525.40,79.55 525.90,79.51 526.40,79.48 526.90,79.45 527.40,79.42 527.90,79.40 528.40,79.38 528.90,79.36 529.40,79.35 529.90,79.35 530.40,79.35 530.90,79.36 531.40,79.38 531.90,79.41 532.40,79.44 532.90,79.48 533.40,79.52 533.90,79.56 534.40,79.60 534.90,79.64 535.40,79.68 535.90,79.73 536.40,79.79 536.90,79.85 537.40,79.91 537.90,79.98 538.40,80.05 538.90,80.12 539.40,80.20 539.90,80.28 540.40,80.36 540.90,80.45 541.40,80.53 541.90,80.62 542.40,80.71 542.90,80.79 543.40,80.88 543.90,80.97 544.40,81.05 544.90,81.13 545.40,81.22 545.90,81.30 546.40,81.38 546.90,81.47 547.40,81.56 547.90,81.64 548.40,81.73 548.90,81.82 549.40,81.91 549.90,82.00 550.40,82.09 550.90,82.18 551.40,82.27 551.90,82.37 552.40,82.46 552.90,82.55 553.40,82.65 553.90,82.74 554.40,82.84 554.90,82.93 555.40,83.03 555.90,83.12 556.40,83.23 556.90,83.33 557.40,83.43 557.90,83.54 558.40,83.64 558.90,83.75 559.40,83.85 559.90,83.96 560.40,84.07 560.90,84.17 561.40,84.27 561.90,84.38 562.40,84.47 562.90,84.57 563.40,84.67 563.90,84.76 564.40,84.85 564.90,84.93 565.40,85.02 565.90,85.10 566.40,85.18 566.90,85.26 567.40,85.34 567.90,85.41 568.40,85.49 568.90,85.57 569.40,85.64 569.90,85.71 570.40,85.78 570.90,85.85 571.40,85.92 571.90,85.99 572.40,86.05 572.90,86.11 573.40,86.17 573.90,86.23 574.40,86.29 574.90,86.34 575.40,86.39 575.90,86.44 576.40,86.49 576.90,86.53 577.40,86.57 577.90,86.62 578.40,86.66 578.90,86.69 579.40,86.73 579.70,86.75 L579.70,91.75 579.40,91.77 578.90,91.81 578.40,91.84 577.90,91.88 577.40,91.93 576.90,91.97 576.40,92.01 575.90,92.06 575.40,92.11 574.90,92.16 574.40,92.21 573.90,92.27 573.40,92.33 572.90,92.39 572.40,92.45 571.90,92.51 571.40,92.58 570.90,92.65 570.40,92.72 569.90,92.79 569.40,92.86 568.90,92.93 568.40,93.01 567.90,93.09 567.40,93.16 566.90,93.24 566.40,93.32 565.90,93.40 565.40,93.48 564.90,93.57 564.40,93.65 563.90,93.74 563.40,93.83 562.90,93.93 562.40,94.03 561.90,94.12 561.40,94.23 560.90,94.33 560.40,94.43 559.90,94.54 559.40,94.65 558.90,94.75 558.40,94.86 557.90,94.96 557.40,95.07 556.90,95.17 556.40,95.27 555.90,95.38 555.40,95.47 554.90,95.57 554.40,95.66 553.90,95.76 553.40,95.85 552.90,95.95 552.40,96.04 551.90,96.13 551.40,96.23 550.90,96.32 550.40,96.41 549.90,96.50 549.40,96.59 548.90,96.68 548.40,96.77 547.90,96.86 547.40,96.94 546.90,97.03 546.40,97.12 545.90,97.20 545.40,97.28 544.90,97.37 544.40,97.45 543.90,97.53 543.40,97.62 542.90,97.71 542.40,97.79 541.90,97.88 541.40,97.97 540.90,98.05 540.40,98.14 539.90,98.22 539.40,98.30 538.90,98.38 538.40,98.45 537.90,98.52 537.40,98.59 536.90,98.65 536.40,98.71 535.90,98.77 535.40,98.82 534.90,98.86 534.40,98.90 533.90,98.94 533.40,98.98 532.90,99.02 532.40,99.06 531.90,99.09 531.40,99.12 530.90,99.14 530.40,99.15 529.90,99.15 529.40,99.15 528.90,99.14 528.40,99.12 527.90,99.10 527.40,99.08 526.90,99.05 526.40,99.02 525.90,98.99 525.40,98.95 524.90,98.91 524.40,98.87 523.90,98.82 523.40,98.78 522.90,98.73 522.40,98.68 521.90,98.63 521.40,98.58 520.90,98.54 520.40,98.49 519.90,98.44 519.40,98.39 518.90,98.34 518.40,98.28 517.90,98.22 517.40,98.15 516.90,98.08 516.40,98.01 515.90,97.94 515.40,97.86 514.90,97.79 514.40,97.71 513.90,97.63 513.40,97.55 512.90,97.48 512.40,97.40 511.90,97.32 511.40,97.25 510.90,97.18 510.40,97.10 509.90,97.04 509.40,96.97 508.90,96.90 508.40,96.84 507.90,96.77 507.40,96.71 506.90,96.64 506.40,96.57 505.90,96.51 505.40,96.45 504.90,96.38 504.40,96.32 503.90,96.25 503.40,96.19 502.90,96.12 502.40,96.06 501.90,96.00 501.40,95.93 500.90,95.87 500.40,95.80 499.90,95.74 499.40,95.67 498.90,95.61 498.40,95.54 497.90,95.48 497.40,95.41 496.90,95.35 496.40,95.28 495.90,95.21 495.40,95.15 494.90,95.08 494.40,95.02 493.90,94.95 493.40,94.89 492.90,94.82 492.40,94.76 491.90,94.69 491.40,94.63 490.90,94.57 490.40,94.50 489.90,94.44 489.40,94.37 488.90,94.31 488.40,94.24 487.90,94.17 487.40,94.10 486.90,94.03 486.40,93.96 485.90,93.89 485.40,93.82 484.90,93.75 484.40,93.69 483.90,93.62 483.40,93.55 482.90,93.48 482.40,93.42 481.90,93.36 481.40,93.30 480.90,93.24 480.40,93.18 479.90,93.13 479.40,93.08 478.90,93.03 478.40,92.98 477.90,92.94 477.40,92.90 476.90,92.87 476.40,92.84 475.90,92.81 475.40,92.78 474.90,92.75 474.40,92.73 473.90,92.70 473.40,92.67 472.90,92.65 472.40,92.62 471.90,92.59 471.40,92.56 470.90,92.52 470.40,92.48 469.90,92.44 469.40,92.39 468.90,92.32 468.40,92.24 467.90,92.15 467.40,92.06 466.90,91.97 466.40,91.88 465.90,91.80 465.40,91.74 464.90,91.69 464.40,91.66 463.90,91.65 463.40,91.65 462.90,91.65 462.40,91.65 461.90,91.65 461.40,91.65 460.90,91.65 460.40,91.66 459.90,91.66 459.40,91.66 458.90,91.66 458.40,91.66 457.90,91.66 457.40,91.67 456.90,91.67 456.40,91.67 455.90,91.67 455.40,91.68 454.90,91.68 454.40,91.68 453.90,91.69 453.40,91.69 452.90,91.69 452.40,91.70 451.90,91.70 451.40,91.70 450.90,91.71 450.40,91.71 449.90,91.71 449.40,91.72 448.90,91.72 448.40,91.73 447.90,91.73 447.40,91.73 446.90,91.74 446.40,91.74 445.90,91.75 445.40,91.75 444.90,91.75 444.40,91.76 443.90,91.76 443.40,91.77 442.90,91.77 442.40,91.77 441.90,91.78 441.40,91.78 440.90,91.79 440.40,91.79 439.90,91.79 439.40,91.80 438.90,91.80 438.40,91.80 437.90,91.81 437.40,91.81 436.90,91.82 436.40,91.82 435.90,91.82 435.40,91.82 434.90,91.83 434.40,91.83 433.90,91.83 433.40,91.84 432.90,91.84 432.40,91.84 431.90,91.84 431.40,91.85 430.90,91.85 430.40,91.85 429.90,91.85 429.40,91.85 428.90,91.85 428.40,91.85 427.90,91.86 427.40,91.86 426.90,91.86 426.40,91.86 425.90,91.86 425.40,91.86 424.90,91.86 424.40,91.87 423.90,91.87 423.40,91.87 422.90,91.87 422.40,91.87 421.90,91.87 421.40,91.87 420.90,91.87 420.40,91.88 419.90,91.88 419.40,91.88 418.90,91.88 418.40,91.88 417.90,91.88 417.40,91.88 416.90,91.88 416.40,91.88 415.90,91.88 415.40,91.89 414.90,91.89 414.40,91.89 413.90,91.89 413.40,91.89 412.90,91.89 412.40,91.89 411.90,91.89 411.40,91.89 410.90,91.89 410.40,91.90 409.90,91.90 409.40,91.90 408.90,91.90 408.40,91.90 407.90,91.90 407.40,91.90 406.90,91.90 406.40,91.90 405.90,91.90 405.40,91.90 404.90,91.90 404.40,91.91 403.90,91.91 403.40,91.91 402.90,91.91 402.40,91.91 401.90,91.91 401.40,91.91 400.90,91.91 400.40,91.91 399.90,91.91 399.40,91.91 398.90,91.91 398.40,91.92 397.90,91.92 397.40,91.92 396.90,91.92 396.40,91.92 395.90,91.92 395.40,91.92 394.90,91.92 394.40,91.92 393.90,91.92 393.40,91.92 392.90,91.92 392.40,91.93 391.90,91.93 391.40,91.93 390.90,91.93 390.40,91.93 389.90,91.93 389.40,91.93 388.90,91.93 388.40,91.93 387.90,91.93 387.40,91.93 386.90,91.94 386.40,91.94 385.90,91.94 385.40,91.94 384.90,91.94 384.40,91.94 383.90,91.94 383.40,91.94 382.90,91.94 382.40,91.94 381.90,91.95 381.40,91.95 380.90,91.95 380.40,91.95 379.90,91.95 379.40,91.95 378.90,91.95 378.40,91.95 377.90,91.95 377.40,91.96 376.90,91.96 376.40,91.96 375.90,91.96 375.40,91.96 374.90,91.96 374.40,91.96 373.90,91.96 373.40,91.96 372.90,91.96 372.40,91.96 371.90,91.97 371.40,91.97 370.90,91.97 370.40,91.97 369.90,91.97 369.40,91.97 368.90,91.97 368.40,91.97 367.90,91.97 367.40,91.97 366.90,91.97 366.40,91.97 365.90,91.98 365.40,91.98 364.90,91.98 364.40,91.98 363.90,91.98 363.40,91.98 362.90,91.98 362.40,91.98 361.90,91.98 361.40,91.98 360.90,91.99 360.40,91.99 359.90,91.99 359.40,91.99 358.90,91.99 358.40,91.99 357.90,91.99 357.40,91.99 356.90,92.00 356.40,92.00 355.90,92.00 355.40,92.00 354.90,92.00 354.40,92.00 353.90,92.01 353.40,92.01 352.90,92.01 352.40,92.01 351.90,92.01 351.40,92.02 350.90,92.02 350.40,92.02 349.90,92.02 349.40,92.02 348.90,92.03 348.40,92.03 347.90,92.03 347.40,92.04 346.90,92.04 346.40,92.04 345.90,92.04 345.40,92.05 344.90,92.05 344.40,92.06 343.90,92.07 343.40,92.08 342.90,92.10 342.40,92.11 341.90,92.13 341.40,92.15 340.90,92.17 340.40,92.19 339.90,92.21 339.40,92.23 338.90,92.25 338.40,92.26 337.90,92.28 337.40,92.29 336.90,92.30 336.40,92.31 335.90,92.33 335.40,92.34 334.90,92.35 334.40,92.36 333.90,92.38 333.40,92.39 332.90,92.40 332.40,92.42 331.90,92.44 331.40,92.45 330.90,92.47 330.40,92.49 329.90,92.52 329.40,92.54 328.90,92.56 328.40,92.59 327.90,92.62 327.40,92.65 326.90,92.67 326.40,92.70 325.90,92.74 325.40,92.77 324.90,92.80 324.40,92.84 323.90,92.87 323.40,92.91 322.90,92.95 322.40,92.99 321.90,93.03 321.40,93.08 320.90,93.12 320.40,93.17 319.90,93.22 319.40,93.27 318.90,93.33 318.40,93.38 317.90,93.44 317.40,93.49 316.90,93.55 316.40,93.61 315.90,93.67 315.40,93.74 314.90,93.80 314.40,93.87 313.90,93.94 313.40,94.01 312.90,94.09 312.40,94.17 311.90,94.25 311.40,94.33 310.90,94.42 310.40,94.50 309.90,94.59 309.40,94.69 308.90,94.79 308.40,94.89 307.90,95.00 307.40,95.12 306.90,95.24 306.40,95.36 305.90,95.49 305.40,95.62 304.90,95.75 304.40,95.88 303.90,96.02 303.40,96.15 302.90,96.29 302.40,96.42 301.90,96.56 301.40,96.70 300.90,96.85 300.40,97.00 299.90,97.15 299.40,97.30 298.90,97.46 298.40,97.61 297.90,97.77 297.40,97.93 296.90,98.08 296.40,98.24 295.90,98.39 295.40,98.53 294.90,98.68 294.40,98.82 293.90,98.97 293.40,99.11 292.90,99.25 292.40,99.40 291.90,99.54 291.40,99.68 290.90,99.82 290.40,99.95 289.90,100.08 289.40,100.21 288.90,100.33 288.40,100.45 287.90,100.57 287.40,100.68 286.90,100.80 286.40,100.91 285.90,101.03 285.40,101.15 284.90,101.26 284.40,101.37 283.90,101.48 283.40,101.59 282.90,101.70 282.40,101.80 281.90,101.90 281.40,102.00 280.90,102.10 280.40,102.19 279.90,102.28 279.40,102.37 278.90,102.45 278.40,102.52 277.90,102.60 277.40,102.66 276.90,102.73 276.40,102.78 275.90,102.84 275.40,102.90 274.90,102.96 274.40,103.02 273.90,103.07 273.40,103.12 272.90,103.16 272.40,103.20 271.90,103.23 271.40,103.24 270.90,103.25 270.40,103.25 269.90,103.24 269.40,103.23 268.90,103.22 268.40,103.20 267.90,103.19 267.40,103.17 266.90,103.14 266.40,103.12 265.90,103.10 265.40,103.07 264.90,103.04 264.40,103.01 263.90,102.98 263.40,102.94 262.90,102.89 262.40,102.83 261.90,102.78 261.40,102.71 260.90,102.64 260.40,102.57 259.90,102.50 259.40,102.41 258.90,102.33 258.40,102.24 257.90,102.15 257.40,102.06 256.90,101.97 256.40,101.87 255.90,101.77 255.40,101.67 254.90,101.56 254.40,101.46 253.90,101.36 253.40,101.25 252.90,101.14 252.40,101.01 251.90,100.87 251.40,100.73 250.90,100.57 250.40,100.40 249.90,100.23 249.40,100.06 248.90,99.88 248.40,99.70 247.90,99.51 247.40,99.33 246.90,99.15 246.40,98.97 245.90,98.80 245.40,98.63 244.90,98.47 244.40,98.32 243.90,98.18 243.40,98.04 242.90,97.92 242.40,97.79 241.90,97.67 241.40,97.55 240.90,97.44 240.40,97.32 239.90,97.21 239.40,97.10 238.90,96.99 238.40,96.88 237.90,96.77 237.40,96.66 236.90,96.54 236.40,96.43 235.90,96.31 235.40,96.19 234.90,96.07 234.40,95.95 233.90,95.84 233.40,95.72 232.90,95.60 232.40,95.48 231.90,95.36 231.40,95.25 230.90,95.13 230.40,95.02 229.90,94.90 229.40,94.79 228.90,94.68 228.40,94.57 227.90,94.46 227.40,94.35 226.90,94.24 226.40,94.13 225.90,94.03 225.40,93.92 224.90,93.81 224.40,93.71 223.90,93.61 223.40,93.52 222.90,93.42 222.40,93.33 221.90,93.25 221.40,93.17 220.90,93.09 220.40,93.01 219.90,92.93 219.40,92.86 218.90,92.79 218.40,92.72 217.90,92.65 217.40,92.58 216.90,92.52 216.40,92.45 215.90,92.39 215.40,92.34 214.90,92.28 214.40,92.23 213.90,92.18 213.40,92.13 212.90,92.08 212.40,92.04 211.90,92.00 211.40,91.96 210.90,91.92 210.40,91.88 209.90,91.85 Z" fill="url(#g2)"/>
<circle cx="211.46" cy="89.25" r="2.60" fill="url(#g2)"/>
<circle cx="578.20" cy="89.25" r="2.50" fill="url(#g2)"/>
<circle cx="283.00" cy="129.15" r="2.00" fill="#f6006b"/>
<circle cx="285.00" cy="129.15" r="2.00" fill="#f6006b"/>
<circle cx="289.60" cy="129.15" r="2.00" fill="#f20072"/>
<circle cx="295.10" cy="129.15" r="2.00" fill="#a21eaa"/>
<circle cx="307.30" cy="129.15" r="2.00" fill="#bb00a0"/>
<circle cx="323.80" cy="129.15" r="2.00" fill="#9135ba"/>
<circle cx="330.50" cy="129.15" r="2.00" fill="#f6006b"/>
<circle cx="332.50" cy="129.15" r="2.00" fill="#f6006b"/>
<circle cx="334.50" cy="129.15" r="2.00" fill="#f6006b"/>
<path d="M335.40,126.55 335.90,125.95 336.40,125.35 336.90,124.74 337.40,124.14 337.90,123.53 338.40,122.92 338.90,122.30 339.40,121.64 339.90,120.94 340.40,120.22 340.90,119.52 341.40,118.84 341.90,118.21 342.40,117.65 342.90,117.18 343.40,116.81 343.90,116.47 344.40,116.13 344.90,115.81 345.40,115.52 345.90,115.27 346.40,115.07 346.90,114.93 347.40,114.86 347.90,114.86 348.40,114.89 348.90,114.96 349.40,115.05 349.90,115.16 350.40,115.28 350.90,115.41 351.40,115.55 351.90,115.69 352.40,115.84 352.90,116.01 353.40,116.20 353.90,116.41 354.40,116.65 354.90,116.90 355.40,117.16 355.90,117.43 356.40,117.71 356.90,117.99 357.40,118.27 357.90,118.56 358.40,118.83 358.90,119.10 359.40,119.39 359.90,119.70 360.40,120.03 360.90,120.38 361.40,120.72 361.90,121.07 362.40,121.41 362.90,121.73 363.40,122.04 363.90,122.32 364.40,122.56 364.90,122.77 365.40,122.92 365.90,123.05 366.40,123.17 366.90,123.27 367.40,123.33 367.90,123.35 368.40,123.19 368.90,122.87 369.40,122.41 369.90,121.86 370.40,121.29 370.90,120.72 371.40,120.22 371.90,119.82 372.40,119.56 372.90,119.33 373.40,119.11 373.90,118.90 374.40,118.71 374.90,118.55 375.40,118.41 375.90,118.31 376.40,118.26 376.90,118.25 377.40,118.28 377.90,118.33 378.40,118.39 378.90,118.47 379.40,118.55 379.90,118.63 380.40,118.72 380.90,118.82 381.40,118.93 381.90,119.06 382.40,119.19 382.90,119.32 383.40,119.45 383.90,119.59 384.40,119.71 384.90,119.83 385.40,119.94 385.90,120.04 386.40,120.15 386.90,120.25 387.40,120.36 387.90,120.45 388.40,120.55 388.90,120.65 389.40,120.74 389.90,120.83 390.40,120.92 390.90,121.01 391.40,121.11 391.90,121.20 392.40,121.29 392.90,121.37 393.40,121.45 393.90,121.52 394.40,121.59 394.90,121.64 395.40,121.69 395.90,121.73 396.40,121.78 396.90,121.81 397.40,121.84 397.90,121.85 398.40,121.82 398.90,121.73 399.40,121.59 399.90,121.41 400.40,121.22 400.90,121.04 401.40,120.88 401.90,120.77 402.40,120.69 402.90,120.62 403.40,120.56 403.90,120.50 404.40,120.47 404.90,120.45 405.40,120.48 405.90,120.61 406.40,120.80 406.90,121.05 407.40,121.32 407.90,121.60 408.40,121.90 408.90,122.31 409.40,122.77 409.90,123.25 410.40,123.70 410.90,124.08 411.40,124.40 411.90,124.71 412.40,125.01 412.90,125.29 413.40,125.55 413.90,125.78 414.40,125.97 414.90,126.12 415.40,126.25 415.90,126.36 416.40,126.45 416.90,126.54 417.40,126.60 417.90,126.64 418.40,126.67 418.90,126.69 419.40,126.71 419.90,126.73 420.40,126.75 420.90,126.76 421.40,126.77 421.90,126.78 422.40,126.80 422.90,126.81 423.40,126.82 423.90,126.83 424.40,126.84 424.90,126.85 425.40,126.86 425.90,126.87 426.40,126.88 426.90,126.90 427.40,126.91 427.90,126.92 428.40,126.93 428.90,126.94 429.40,126.95 429.90,126.96 430.40,126.97 430.90,126.98 431.40,126.99 431.90,127.00 432.40,127.01 432.90,127.02 433.40,127.03 433.90,127.04 434.40,127.05 434.60,127.05 L434.60,131.25 434.40,131.25 433.90,131.26 433.40,131.27 432.90,131.28 432.40,131.29 431.90,131.30 431.40,131.31 430.90,131.32 430.40,131.33 429.90,131.34 429.40,131.35 428.90,131.36 428.40,131.37 427.90,131.38 427.40,131.39 426.90,131.40 426.40,131.42 425.90,131.43 425.40,131.44 424.90,131.45 424.40,131.46 423.90,131.47 423.40,131.48 422.90,131.49 422.40,131.50 421.90,131.52 421.40,131.53 420.90,131.54 420.40,131.55 419.90,131.57 419.40,131.59 418.90,131.61 418.40,131.63 417.90,131.66 417.40,131.70 416.90,131.76 416.40,131.85 415.90,131.94 415.40,132.05 414.90,132.18 414.40,132.33 413.90,132.52 413.40,132.75 412.90,133.01 412.40,133.29 411.90,133.59 411.40,133.90 410.90,134.22 410.40,134.60 409.90,135.05 409.40,135.53 408.90,135.99 408.40,136.40 407.90,136.70 407.40,136.98 406.90,137.25 406.40,137.50 405.90,137.69 405.40,137.82 404.90,137.85 404.40,137.83 403.90,137.80 403.40,137.74 402.90,137.68 402.40,137.61 401.90,137.53 401.40,137.42 400.90,137.26 400.40,137.08 399.90,136.89 399.40,136.71 398.90,136.57 398.40,136.48 397.90,136.45 397.40,136.46 396.90,136.49 396.40,136.52 395.90,136.57 395.40,136.61 394.90,136.66 394.40,136.71 393.90,136.78 393.40,136.85 392.90,136.93 392.40,137.01 391.90,137.10 391.40,137.19 390.90,137.29 390.40,137.38 389.90,137.47 389.40,137.56 388.90,137.65 388.40,137.75 387.90,137.85 387.40,137.94 386.90,138.05 386.40,138.15 385.90,138.26 385.40,138.36 384.90,138.47 384.40,138.59 383.90,138.71 383.40,138.85 382.90,138.98 382.40,139.11 381.90,139.24 381.40,139.37 380.90,139.48 380.40,139.58 379.90,139.67 379.40,139.75 378.90,139.83 378.40,139.91 377.90,139.97 377.40,140.02 376.90,140.05 376.40,140.04 375.90,139.99 375.40,139.89 374.90,139.75 374.40,139.59 373.90,139.40 373.40,139.19 372.90,138.97 372.40,138.74 371.90,138.48 371.40,138.08 370.90,137.58 370.40,137.01 369.90,136.44 369.40,135.89 368.90,135.43 368.40,135.11 367.90,134.95 367.40,134.97 366.90,135.03 366.40,135.13 365.90,135.25 365.40,135.38 364.90,135.53 364.40,135.74 363.90,135.98 363.40,136.26 362.90,136.57 362.40,136.89 361.90,137.23 361.40,137.58 360.90,137.92 360.40,138.27 359.90,138.60 359.40,138.91 358.90,139.20 358.40,139.47 357.90,139.74 357.40,140.03 356.90,140.31 356.40,140.59 355.90,140.87 355.40,141.14 354.90,141.40 354.40,141.65 353.90,141.89 353.40,142.10 352.90,142.29 352.40,142.46 351.90,142.61 351.40,142.75 350.90,142.89 350.40,143.02 349.90,143.14 349.40,143.25 348.90,143.34 348.40,143.41 347.90,143.44 347.40,143.44 346.90,143.37 346.40,143.23 345.90,143.03 345.40,142.78 344.90,142.49 344.40,142.17 343.90,141.83 343.40,141.49 342.90,141.12 342.40,140.65 341.90,140.09 341.40,139.46 340.90,138.78 340.40,138.08 339.90,137.36 339.40,136.66 338.90,136.00 338.40,135.38 337.90,134.77 337.40,134.16 336.90,133.56 336.40,132.95 335.90,132.35 335.40,131.75 Z" fill="url(#g3)"/>
<circle cx="336.96" cy="129.15" r="2.60" fill="url(#g3)"/>
<circle cx="433.34" cy="129.15" r="2.10" fill="url(#g3)"/>
<path d="M315.50,166.80 316.00,166.80 316.50,166.80 317.00,166.80 317.50,166.80 318.00,166.80 318.50,166.80 319.00,166.80 319.50,166.80 320.00,166.80 320.50,166.80 321.00,166.80 321.50,166.80 322.00,166.80 322.50,166.80 323.00,166.80 323.50,166.80 324.00,166.80 324.50,166.80 325.00,166.80 325.50,166.80 326.00,166.80 326.50,166.80 327.00,166.80 327.50,166.80 328.00,166.80 328.50,166.80 329.00,166.80 329.50,166.80 330.00,166.80 330.50,166.80 331.00,166.80 331.50,166.80 332.00,166.80 332.50,166.80 333.00,166.80 333.50,166.80 334.00,166.80 334.50,166.80 335.00,166.80 335.50,166.80 336.00,166.80 336.50,166.80 337.00,166.80 337.50,166.80 338.00,166.80 338.50,166.80 339.00,166.80 339.50,166.80 340.00,166.80 340.50,166.80 341.00,166.80 341.50,166.80 342.00,166.80 342.50,166.80 343.00,166.80 343.50,166.80 344.00,166.80 344.50,166.80 345.00,166.80 345.50,166.80 346.00,166.80 346.50,166.80 347.00,166.80 347.50,166.80 348.00,166.80 348.50,166.80 349.00,166.80 349.50,166.80 350.00,166.80 350.50,166.80 351.00,166.80 351.50,166.80 352.00,166.80 352.50,166.80 353.00,166.80 353.50,166.80 354.00,166.80 354.50,166.80 355.00,166.56 355.50,166.06 356.00,165.66 356.50,165.32 357.00,165.00 357.50,164.68 358.00,164.36 358.50,164.02 359.00,163.65 359.50,163.26 360.00,162.85 360.50,162.43 361.00,162.00 361.50,161.57 362.00,161.14 362.50,160.69 363.00,160.23 363.50,159.77 364.00,159.32 364.50,158.88 365.00,158.46 365.50,158.02 366.00,157.58 366.50,157.18 367.00,156.81 367.50,156.50 368.00,156.22 368.50,155.94 369.00,155.68 369.50,155.47 370.00,155.34 370.50,155.30 371.00,155.32 371.50,155.35 372.00,155.40 372.50,155.46 373.00,155.53 373.50,155.62 374.00,155.77 374.50,155.99 375.00,156.27 375.50,156.58 376.00,156.91 376.50,157.23 377.00,157.62 377.50,158.06 378.00,158.50 378.50,158.92 379.00,159.28 379.50,159.56 380.00,159.81 380.50,160.04 381.00,160.25 381.50,160.43 382.00,160.57 382.50,160.69 383.00,160.80 383.50,160.89 384.00,160.97 384.50,161.04 385.00,161.10 385.50,161.15 386.00,161.20 386.50,161.24 387.00,161.28 387.50,161.32 388.00,161.35 388.50,161.39 389.00,161.42 389.50,161.46 390.00,161.50 390.50,161.55 391.00,161.60 391.50,161.65 392.00,161.71 392.50,161.76 393.00,161.81 393.50,161.85 394.00,161.88 394.50,161.90 395.00,161.90 395.50,161.88 396.00,161.84 396.50,161.80 397.00,161.75 397.50,161.70 398.00,161.66 398.50,161.62 399.00,161.60 399.50,161.58 400.00,161.57 400.50,161.55 401.00,161.54 401.50,161.53 402.00,161.52 402.50,161.51 403.00,161.50 403.50,161.50 404.00,161.51 404.50,161.57 405.00,161.67 405.50,161.80 406.00,161.96 406.50,162.13 407.00,162.30 407.50,162.51 408.00,162.78 408.50,163.08 409.00,163.41 409.50,163.73 410.00,164.08 410.50,164.46 411.00,164.84 411.50,165.20 412.00,165.59 412.50,166.00 413.00,166.37 413.50,166.64 414.00,166.77 414.50,166.86 415.00,166.90 415.50,166.90 416.00,166.90 416.50,166.91 417.00,166.91 417.50,166.91 418.00,166.91 418.50,166.91 419.00,166.91 419.50,166.92 420.00,166.92 420.50,166.92 421.00,166.92 421.50,166.92 422.00,166.92 422.50,166.93 423.00,166.93 423.50,166.93 424.00,166.93 424.50,166.93 425.00,166.93 425.50,166.94 426.00,166.94 426.50,166.94 427.00,166.94 427.50,166.94 428.00,166.94 428.50,166.94 429.00,166.94 429.50,166.95 430.00,166.95 430.50,166.95 431.00,166.95 431.50,166.95 432.00,166.95 432.50,166.95 433.00,166.95 433.50,166.96 434.00,166.96 434.50,166.96 435.00,166.96 435.50,166.96 436.00,166.96 436.50,166.96 437.00,166.96 437.50,166.96 438.00,166.96 438.50,166.97 439.00,166.97 439.50,166.97 440.00,166.97 440.50,166.97 441.00,166.97 441.50,166.97 442.00,166.97 442.50,166.97 443.00,166.97 443.50,166.97 444.00,166.98 444.50,166.98 445.00,166.98 445.50,166.98 446.00,166.98 446.50,166.98 447.00,166.98 447.50,166.98 448.00,166.98 448.50,166.98 449.00,166.98 449.50,166.98 450.00,166.98 450.50,166.98 451.00,166.98 451.50,166.98 452.00,166.99 452.50,166.99 453.00,166.99 453.50,166.99 454.00,166.99 454.50,166.99 455.00,166.99 455.50,166.99 456.00,166.99 456.50,166.99 457.00,166.99 457.50,166.99 458.00,166.99 458.50,166.99 459.00,166.99 459.50,166.99 460.00,166.99 460.50,166.99 461.00,166.99 461.50,166.99 462.00,166.99 462.50,166.99 463.00,166.99 463.50,166.99 464.00,166.99 464.50,167.00 465.00,167.00 465.50,167.00 466.00,167.00 466.50,167.00 467.00,167.00 467.50,167.00 468.00,167.00 468.50,167.00 469.00,167.00 469.50,167.00 470.00,167.00 470.50,167.00 471.00,167.00 471.50,167.00 472.00,167.00 472.50,167.00 473.00,167.00 473.50,167.00 474.00,167.00 474.50,167.00 475.00,167.00 475.50,167.00 476.00,167.00 476.50,167.00 477.00,167.00 477.50,167.00 478.00,167.00 478.50,167.00 479.00,167.00 479.50,167.00 480.00,167.00 480.50,167.00 481.00,167.00 481.50,167.00 482.00,167.00 482.50,167.00 483.00,167.00 483.50,167.00 484.00,167.00 484.50,167.00 485.00,167.00 485.50,167.00 486.00,167.00 486.50,167.00 487.00,167.00 487.50,167.00 488.00,167.00 488.50,167.00 489.00,167.00 489.50,167.00 490.00,167.00 490.50,167.00 490.70,167.00 L490.70,171.20 490.50,171.20 490.00,171.20 489.50,171.20 489.00,171.20 488.50,171.20 488.00,171.20 487.50,171.20 487.00,171.20 486.50,171.20 486.00,171.20 485.50,171.20 485.00,171.20 484.50,171.20 484.00,171.20 483.50,171.20 483.00,171.20 482.50,171.20 482.00,171.20 481.50,171.20 481.00,171.20 480.50,171.20 480.00,171.20 479.50,171.20 479.00,171.20 478.50,171.20 478.00,171.20 477.50,171.20 477.00,171.20 476.50,171.20 476.00,171.20 475.50,171.20 475.00,171.20 474.50,171.20 474.00,171.20 473.50,171.20 473.00,171.20 472.50,171.20 472.00,171.20 471.50,171.20 471.00,171.20 470.50,171.20 470.00,171.20 469.50,171.20 469.00,171.20 468.50,171.20 468.00,171.20 467.50,171.20 467.00,171.20 466.50,171.20 466.00,171.20 465.50,171.20 465.00,171.20 464.50,171.20 464.00,171.21 463.50,171.21 463.00,171.21 462.50,171.21 462.00,171.21 461.50,171.21 461.00,171.21 460.50,171.21 460.00,171.21 459.50,171.21 459.00,171.21 458.50,171.21 458.00,171.21 457.50,171.21 457.00,171.21 456.50,171.21 456.00,171.21 455.50,171.21 455.00,171.21 454.50,171.21 454.00,171.21 453.50,171.21 453.00,171.21 452.50,171.21 452.00,171.21 451.50,171.22 451.00,171.22 450.50,171.22 450.00,171.22 449.50,171.22 449.00,171.22 448.50,171.22 448.00,171.22 447.50,171.22 447.00,171.22 446.50,171.22 446.00,171.22 445.50,171.22 445.00,171.22 444.50,171.22 444.00,171.22 443.50,171.23 443.00,171.23 442.50,171.23 442.00,171.23 441.50,171.23 441.00,171.23 440.50,171.23 440.00,171.23 439.50,171.23 439.00,171.23 438.50,171.23 438.00,171.24 437.50,171.24 437.00,171.24 436.50,171.24 436.00,171.24 435.50,171.24 435.00,171.24 434.50,171.24 434.00,171.24 433.50,171.24 433.00,171.25 432.50,171.25 432.00,171.25 431.50,171.25 431.00,171.25 430.50,171.25 430.00,171.25 429.50,171.25 429.00,171.26 428.50,171.26 428.00,171.26 427.50,171.26 427.00,171.26 426.50,171.26 426.00,171.26 425.50,171.26 425.00,171.27 424.50,171.27 424.00,171.27 423.50,171.27 423.00,171.27 422.50,171.27 422.00,171.28 421.50,171.28 421.00,171.28 420.50,171.28 420.00,171.28 419.50,171.28 419.00,171.29 418.50,171.29 418.00,171.29 417.50,171.29 417.00,171.29 416.50,171.29 416.00,171.30 415.50,171.30 415.00,171.30 414.50,171.34 414.00,171.43 413.50,171.56 413.00,171.83 412.50,172.20 412.00,172.61 411.50,173.00 411.00,173.36 410.50,173.74 410.00,174.12 409.50,174.47 409.00,174.79 408.50,175.12 408.00,175.42 407.50,175.69 407.00,175.90 406.50,176.07 406.00,176.24 405.50,176.40 405.00,176.53 404.50,176.63 404.00,176.69 403.50,176.70 403.00,176.70 402.50,176.69 402.00,176.68 401.50,176.67 401.00,176.66 400.50,176.65 400.00,176.63 399.50,176.62 399.00,176.60 398.50,176.58 398.00,176.54 397.50,176.50 397.00,176.45 396.50,176.40 396.00,176.36 395.50,176.32 395.00,176.30 394.50,176.30 394.00,176.32 393.50,176.35 393.00,176.39 392.50,176.44 392.00,176.49 391.50,176.55 391.00,176.60 390.50,176.65 390.00,176.70 389.50,176.74 389.00,176.78 388.50,176.81 388.00,176.85 387.50,176.88 387.00,176.92 386.50,176.96 386.00,177.00 385.50,177.05 385.00,177.10 384.50,177.16 384.00,177.23 383.50,177.31 383.00,177.40 382.50,177.51 382.00,177.63 381.50,177.77 381.00,177.95 380.50,178.16 380.00,178.39 379.50,178.64 379.00,178.92 378.50,179.28 378.00,179.70 377.50,180.14 377.00,180.58 376.50,180.97 376.00,181.29 375.50,181.62 375.00,181.93 374.50,182.21 374.00,182.43 373.50,182.58 373.00,182.67 372.50,182.74 372.00,182.80 371.50,182.85 371.00,182.88 370.50,182.90 370.00,182.86 369.50,182.73 369.00,182.52 368.50,182.26 368.00,181.98 367.50,181.70 367.00,181.39 366.50,181.02 366.00,180.62 365.50,180.18 365.00,179.74 364.50,179.32 364.00,178.88 363.50,178.43 363.00,177.97 362.50,177.51 362.00,177.06 361.50,176.63 361.00,176.20 360.50,175.77 360.00,175.35 359.50,174.94 359.00,174.55 358.50,174.18 358.00,173.84 357.50,173.52 357.00,173.20 356.50,172.88 356.00,172.54 355.50,172.14 355.00,171.64 354.50,171.40 354.00,171.40 353.50,171.40 353.00,171.40 352.50,171.40 352.00,171.40 351.50,171.40 351.00,171.40 350.50,171.40 350.00,171.40 349.50,171.40 349.00,171.40 348.50,171.40 348.00,171.40 347.50,171.40 347.00,171.40 346.50,171.40 346.00,171.40 345.50,171.40 345.00,171.40 344.50,171.40 344.00,171.40 343.50,171.40 343.00,171.40 342.50,171.40 342.00,171.40 341.50,171.40 341.00,171.40 340.50,171.40 340.00,171.40 339.50,171.40 339.00,171.40 338.50,171.40 338.00,171.40 337.50,171.40 337.00,171.40 336.50,171.40 336.00,171.40 335.50,171.40 335.00,171.40 334.50,171.40 334.00,171.40 333.50,171.40 333.00,171.40 332.50,171.40 332.00,171.40 331.50,171.40 331.00,171.40 330.50,171.40 330.00,171.40 329.50,171.40 329.00,171.40 328.50,171.40 328.00,171.40 327.50,171.40 327.00,171.40 326.50,171.40 326.00,171.40 325.50,171.40 325.00,171.40 324.50,171.40 324.00,171.40 323.50,171.40 323.00,171.40 322.50,171.40 322.00,171.40 321.50,171.40 321.00,171.40 320.50,171.40 320.00,171.40 319.50,171.40 319.00,171.40 318.50,171.40 318.00,171.40 317.50,171.40 317.00,171.40 316.50,171.40 316.00,171.40 315.50,171.40 Z" fill="url(#g4)"/>
<circle cx="316.88" cy="169.10" r="2.30" fill="url(#g4)"/>
<circle cx="489.44" cy="169.10" r="2.10" fill="url(#g4)"/>
<circle cx="496.50" cy="169.10" r="1.90" fill="#4b63e3"/>
<circle cx="499.00" cy="169.10" r="1.90" fill="#4b63e3"/>
<circle cx="502.00" cy="169.10" r="1.90" fill="#8443c6"/>
<circle cx="504.80" cy="169.10" r="1.90" fill="#8443c6"/>
<circle cx="303.50" cy="209.00" r="2.20" fill="#0084f9"/>
<path d="M332.40,207.00 332.90,207.00 333.40,207.00 333.90,207.00 334.40,207.00 334.90,207.00 335.40,207.00 335.90,207.00 336.40,207.00 336.90,207.00 337.40,207.00 337.90,207.00 338.40,207.00 338.90,207.00 339.40,207.00 339.90,207.00 340.40,207.00 340.90,206.99 341.40,206.99 341.90,206.99 342.40,206.99 342.90,206.99 343.40,206.99 343.90,206.99 344.40,206.99 344.90,206.98 345.40,206.98 345.90,206.98 346.40,206.98 346.90,206.98 347.40,206.97 347.90,206.97 348.40,206.97 348.90,206.97 349.40,206.96 349.90,206.96 350.40,206.96 350.90,206.95 351.40,206.95 351.90,206.95 352.40,206.94 352.90,206.94 353.40,206.93 353.90,206.93 354.40,206.92 354.90,206.92 355.40,206.91 355.90,206.91 356.40,206.90 356.90,206.80 357.40,206.09 357.90,205.54 358.40,205.28 358.90,205.09 359.40,204.93 359.90,204.78 360.40,204.59 360.90,204.34 361.40,204.03 361.90,203.65 362.40,203.23 362.90,202.77 363.40,202.29 363.90,201.80 364.40,201.22 364.90,200.59 365.40,199.94 365.90,199.30 366.40,198.71 366.90,198.19 367.40,197.67 367.90,197.16 368.40,196.70 368.90,196.29 369.40,195.95 369.90,195.68 370.40,195.43 370.90,195.25 371.40,195.20 371.90,195.33 372.40,195.56 372.90,195.85 373.40,196.13 373.90,196.48 374.40,196.89 374.90,197.36 375.40,197.90 375.90,198.64 376.40,199.58 376.90,200.55 377.40,201.42 377.90,202.32 378.40,203.15 378.90,203.80 379.40,204.29 379.90,204.72 380.40,205.08 380.90,205.37 381.40,205.58 381.90,205.76 382.40,205.93 382.90,206.04 383.40,206.10 383.90,206.07 384.40,205.95 384.90,205.77 385.40,205.54 385.90,205.28 386.40,205.01 386.90,204.75 387.40,204.48 387.90,204.16 388.40,203.81 388.90,203.46 389.40,203.16 389.90,202.93 390.40,202.77 390.90,202.64 391.40,202.60 391.90,202.69 392.40,202.87 392.90,203.10 393.40,203.34 393.90,203.55 394.40,203.68 394.90,203.70 395.40,203.68 395.90,203.65 396.40,203.60 396.90,203.56 397.40,203.51 397.90,203.46 398.40,203.39 398.90,203.32 399.40,203.26 399.90,203.21 400.40,203.20 400.90,203.30 401.40,203.50 401.90,203.79 402.40,204.12 402.90,204.46 403.40,204.78 403.90,205.09 404.40,205.46 404.90,205.86 405.40,206.22 405.90,206.49 406.40,206.60 406.90,206.62 407.40,206.63 407.90,206.65 408.40,206.66 408.90,206.68 409.40,206.69 409.90,206.70 410.40,206.72 410.90,206.73 411.40,206.74 411.90,206.75 412.40,206.76 412.90,206.77 413.40,206.78 413.90,206.79 414.40,206.80 414.90,206.81 415.40,206.82 415.90,206.82 416.40,206.83 416.90,206.84 417.40,206.84 417.90,206.85 418.40,206.85 418.90,206.86 419.40,206.86 419.90,206.87 420.40,206.87 420.90,206.88 421.40,206.88 421.90,206.88 422.40,206.88 422.90,206.89 423.40,206.89 423.90,206.89 424.40,206.89 424.90,206.89 425.40,206.90 425.90,206.90 426.40,206.90 426.90,206.90 427.40,206.90 427.90,206.90 428.40,206.90 428.90,206.90 429.30,206.90 L429.30,211.10 428.90,211.10 428.40,211.10 427.90,211.10 427.40,211.10 426.90,211.10 426.40,211.10 425.90,211.10 425.40,211.10 424.90,211.11 424.40,211.11 423.90,211.11 423.40,211.11 422.90,211.11 422.40,211.12 421.90,211.12 421.40,211.12 420.90,211.12 420.40,211.13 419.90,211.13 419.40,211.14 418.90,211.14 418.40,211.15 417.90,211.15 417.40,211.16 416.90,211.16 416.40,211.17 415.90,211.18 415.40,211.18 414.90,211.19 414.40,211.20 413.90,211.21 413.40,211.22 412.90,211.23 412.40,211.24 411.90,211.25 411.40,211.26 410.90,211.27 410.40,211.28 409.90,211.30 409.40,211.31 408.90,211.32 408.40,211.34 407.90,211.35 407.40,211.37 406.90,211.38 406.40,211.40 405.90,211.51 405.40,211.78 404.90,212.14 404.40,212.54 403.90,212.91 403.40,213.22 402.90,213.54 402.40,213.88 401.90,214.21 401.40,214.50 400.90,214.70 400.40,214.80 399.90,214.79 399.40,214.74 398.90,214.68 398.40,214.61 397.90,214.54 397.40,214.49 396.90,214.44 396.40,214.40 395.90,214.35 395.40,214.32 394.90,214.30 394.40,214.32 393.90,214.45 393.40,214.66 392.90,214.90 392.40,215.13 391.90,215.31 391.40,215.40 390.90,215.36 390.40,215.23 389.90,215.07 389.40,214.84 388.90,214.54 388.40,214.19 387.90,213.84 387.40,213.52 386.90,213.25 386.40,212.99 385.90,212.72 385.40,212.46 384.90,212.23 384.40,212.05 383.90,211.93 383.40,211.90 382.90,211.96 382.40,212.07 381.90,212.24 381.40,212.42 380.90,212.63 380.40,212.92 379.90,213.28 379.40,213.71 378.90,214.20 378.40,214.85 377.90,215.68 377.40,216.58 376.90,217.45 376.40,218.42 375.90,219.36 375.40,220.10 374.90,220.64 374.40,221.11 373.90,221.52 373.40,221.87 372.90,222.15 372.40,222.44 371.90,222.67 371.40,222.80 370.90,222.75 370.40,222.57 369.90,222.32 369.40,222.05 368.90,221.71 368.40,221.30 367.90,220.84 367.40,220.33 366.90,219.81 366.40,219.29 365.90,218.70 365.40,218.06 364.90,217.41 364.40,216.78 363.90,216.20 363.40,215.71 362.90,215.23 362.40,214.77 361.90,214.35 361.40,213.97 360.90,213.66 360.40,213.41 359.90,213.22 359.40,213.07 358.90,212.91 358.40,212.72 357.90,212.46 357.40,211.91 356.90,211.20 356.40,211.10 355.90,211.09 355.40,211.09 354.90,211.08 354.40,211.08 353.90,211.07 353.40,211.07 352.90,211.06 352.40,211.06 351.90,211.05 351.40,211.05 350.90,211.05 350.40,211.04 349.90,211.04 349.40,211.04 348.90,211.03 348.40,211.03 347.90,211.03 347.40,211.03 346.90,211.02 346.40,211.02 345.90,211.02 345.40,211.02 344.90,211.02 344.40,211.01 343.90,211.01 343.40,211.01 342.90,211.01 342.40,211.01 341.90,211.01 341.40,211.01 340.90,211.01 340.40,211.00 339.90,211.00 339.40,211.00 338.90,211.00 338.40,211.00 337.90,211.00 337.40,211.00 336.90,211.00 336.40,211.00 335.90,211.00 335.40,211.00 334.90,211.00 334.40,211.00 333.90,211.00 333.40,211.00 332.90,211.00 332.40,211.00 Z" fill="url(#g5)"/>
<circle cx="333.60" cy="209.00" r="2.00" fill="url(#g5)"/>
<circle cx="428.04" cy="209.00" r="2.10" fill="url(#g5)"/>
<path d="M347.70,246.75 348.20,246.75 348.70,246.75 349.20,246.75 349.70,246.75 350.20,246.75 350.70,246.75 351.20,246.75 351.70,246.75 352.20,246.75 352.70,246.75 353.20,246.75 353.70,246.75 354.20,246.75 354.70,246.75 355.20,246.75 355.70,246.75 356.20,246.75 356.70,246.75 357.20,246.75 357.70,246.75 358.20,246.75 358.70,246.75 359.20,246.75 359.70,246.75 360.20,246.75 360.70,246.75 361.20,246.75 361.70,246.75 362.20,246.75 362.70,246.75 363.20,246.75 363.70,246.75 364.20,246.75 364.70,246.75 365.20,246.75 365.70,246.75 366.20,246.75 366.70,246.75 367.20,246.75 367.70,246.75 368.20,246.75 368.70,246.75 369.20,246.75 369.70,246.74 370.20,246.38 370.70,245.79 371.20,244.83 371.70,243.64 372.20,242.13 372.70,240.44 373.20,238.50 373.70,237.27 374.20,236.45 374.70,235.86 375.20,235.55 375.70,235.32 376.20,235.18 376.70,235.26 377.20,236.22 377.70,237.53 378.20,238.48 378.70,239.28 379.20,239.92 379.70,240.24 380.20,240.39 380.70,240.53 381.20,240.77 381.70,241.21 382.20,241.78 382.70,242.43 383.20,243.27 383.70,244.17 384.20,244.96 384.70,245.79 385.20,246.42 385.70,246.56 386.20,246.57 386.70,246.59 387.20,246.60 387.70,246.61 388.20,246.63 388.70,246.64 389.20,246.65 389.70,246.66 390.20,246.67 390.70,246.68 391.20,246.68 391.70,246.69 392.20,246.70 392.70,246.71 393.20,246.71 393.70,246.72 394.20,246.72 394.70,246.73 395.20,246.73 395.70,246.73 396.20,246.74 396.70,246.74 397.20,246.74 397.70,246.74 398.20,246.74 398.70,246.75 399.20,246.75 399.70,246.75 400.20,246.75 400.70,246.75 401.20,246.75 401.70,246.75 402.20,246.75 402.30,246.75 L402.30,251.15 402.20,251.15 401.70,251.15 401.20,251.15 400.70,251.15 400.20,251.15 399.70,251.15 399.20,251.15 398.70,251.15 398.20,251.16 397.70,251.16 397.20,251.16 396.70,251.16 396.20,251.16 395.70,251.17 395.20,251.17 394.70,251.17 394.20,251.18 393.70,251.18 393.20,251.19 392.70,251.19 392.20,251.20 391.70,251.21 391.20,251.22 390.70,251.22 390.20,251.23 389.70,251.24 389.20,251.25 388.70,251.26 388.20,251.27 387.70,251.29 387.20,251.30 386.70,251.31 386.20,251.33 385.70,251.34 385.20,251.48 384.70,252.11 384.20,252.94 383.70,253.73 383.20,254.63 382.70,255.47 382.20,256.12 381.70,256.69 381.20,257.13 380.70,257.37 380.20,257.51 379.70,257.66 379.20,257.98 378.70,258.62 378.20,259.42 377.70,260.37 377.20,261.68 376.70,262.64 376.20,262.72 375.70,262.58 375.20,262.35 374.70,262.04 374.20,261.45 373.70,260.63 373.20,259.40 372.70,257.46 372.20,255.77 371.70,254.26 371.20,253.07 370.70,252.11 370.20,251.52 369.70,251.16 369.20,251.15 368.70,251.15 368.20,251.15 367.70,251.15 367.20,251.15 366.70,251.15 366.20,251.15 365.70,251.15 365.20,251.15 364.70,251.15 364.20,251.15 363.70,251.15 363.20,251.15 362.70,251.15 362.20,251.15 361.70,251.15 361.20,251.15 360.70,251.15 360.20,251.15 359.70,251.15 359.20,251.15 358.70,251.15 358.20,251.15 357.70,251.15 357.20,251.15 356.70,251.15 356.20,251.15 355.70,251.15 355.20,251.15 354.70,251.15 354.20,251.15 353.70,251.15 353.20,251.15 352.70,251.15 352.20,251.15 351.70,251.15 351.20,251.15 350.70,251.15 350.20,251.15 349.70,251.15 349.20,251.15 348.70,251.15 348.20,251.15 347.70,251.15 Z" fill="url(#g6)"/>
<circle cx="349.02" cy="248.95" r="2.20" fill="url(#g6)"/>
<circle cx="400.98" cy="248.95" r="2.20" fill="url(#g6)"/>
<line x1="158" y1="289.2" x2="600" y2="289.2" stroke="#222222" stroke-width="1.25"/>
<line x1="176.30" y1="289" x2="176.30" y2="293.8" stroke="#333333" stroke-width="1.1"/>
<text transform="scale(1.1500,1)" x="145.18 154.23" y="308.10" font-size="14.77" fill="#333333">−8</text>
<line x1="226.68" y1="289" x2="226.68" y2="293.8" stroke="#333333" stroke-width="1.1"/>
<text transform="scale(1.1500,1)" x="188.98 198.03" y="308.10" font-size="14.77" fill="#333333">−6</text>
<line x1="277.06" y1="289" x2="277.06" y2="293.8" stroke="#333333" stroke-width="1.1"/>
<text transform="scale(1.1500,1)" x="232.79 241.84" y="308.10" font-size="14.77" fill="#333333">−4</text>
<line x1="327.44" y1="289" x2="327.44" y2="293.8" stroke="#333333" stroke-width="1.1"/>
<text transform="scale(1.1500,1)" x="276.60 285.65" y="308.10" font-size="14.77" fill="#333333">−2</text>
<line x1="377.82" y1="289" x2="377.82" y2="293.8" stroke="#333333" stroke-width="1.1"/>
<text transform="scale(1.0691,1)" x="349.28" y="308.10" font-size="14.77" fill="#333333">0</text>
<line x1="428.20" y1="289" x2="428.20" y2="293.8" stroke="#333333" stroke-width="1.1"/>
<text transform="scale(1.0691,1)" x="396.40" y="308.10" font-size="14.77" fill="#333333">2</text>
<line x1="478.58" y1="289" x2="478.58" y2="293.8" stroke="#333333" stroke-width="1.1"/>
<text transform="scale(1.0691,1)" x="443.52" y="308.10" font-size="14.77" fill="#333333">4</text>
<line x1="528.96" y1="289" x2="528.96" y2="293.8" stroke="#333333" stroke-width="1.1"/>
<text transform="scale(1.0691,1)" x="490.64" y="308.10" font-size="14.77" fill="#333333">6</text>
<line x1="579.34" y1="289" x2="579.34" y2="293.8" stroke="#333333" stroke-width="1.1"/>
<text transform="scale(1.0691,1)" x="537.77" y="308.10" font-size="14.77" fill="#333333">8</text>
<text transform="scale(1.0257,1)" x="5.05 12.90 21.91 31.84 41.78 54.84 59.17 69.07 76.92 85.95 96.06 106.17 116.31" y="56.10" font-size="17.44" fill="#333333">c_newinc_100k</text>
<text transform="scale(1.0395,1)" x="21.79 30.53 39.68 54.52 64.49 71.27 75.84 84.75 94.72 104.70 114.72" y="96.05" font-size="17.44" fill="#333333">e_mort_100k</text>
<text transform="scale(1.1047,1)" x="96.65 105.24 110.39" y="135.95" font-size="17.44" fill="#333333">cfr</text>
<text transform="scale(1.0111,1)" x="84.51 92.48 101.44 110.50 120.87" y="175.90" font-size="17.44" fill="#333333">c_cdr</text>
<text transform="scale(1.0153,1)" x="34.53 43.48 52.59 62.60 72.60 81.71 90.82 100.99 111.48" y="215.80" font-size="17.44" fill="#333333">e_pop_num</text>
<text transform="scale(1.0522,1)" x="27.37 36.01 45.34 50.87 60.70 70.67 74.98 82.95 91.74 101.79 107.77 116.67" y="255.75" font-size="17.44" fill="#333333">e_tbhiv_prct</text>
<text transform="scale(1.0543,1)" x="211.05 221.29 232.87 242.82 253.34 258.43 267.25 277.05 281.18 290.84 300.48 305.47 311.60 315.95 330.80 340.45 349.92 359.14 364.63 369.39 379.02 388.80 393.95 408.62 418.26 427.92 437.74 441.86 446.61 456.24 466.60 472.11 481.92 492.28 497.84" y="329.20" font-size="17.44" fill="#111">SHAP value (impact on model output)</text>
<rect x="626" y="9" width="4" height="279.5" fill="url(#cb)"/>
<text transform="scale(1.0444,1)" x="606.68 617.17 620.74 629.12" y="14.60" font-size="14.77" fill="#222">High</text>
<text transform="scale(1.0122,1)" x="626.06 634.03 642.31" y="294.30" font-size="14.77" fill="#222">Low</text>
<g transform="translate(678,149.7) rotate(-90)"><text transform="scale(1.0553,1)" x="-49.50 -40.58 -32.60 -23.19 -18.12 -8.87 -3.35 5.23 9.93 18.07 27.11 30.92 39.82" y="0.00" font-size="16.10" fill="#222">Feature value</text></g>
</svg>
</body></html>
